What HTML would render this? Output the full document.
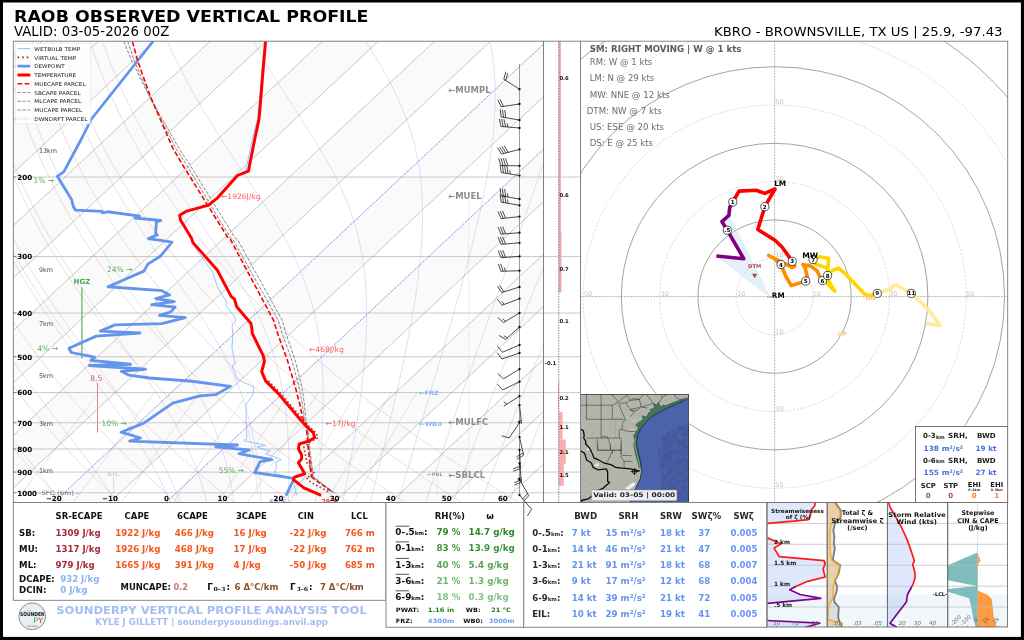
<!DOCTYPE html>
<html lang="en"><head><meta charset="utf-8"><title>RAOB OBSERVED VERTICAL PROFILE</title>
<style>html,body{margin:0;padding:0;background:#fff;overflow:hidden}svg{display:block}text{font-family:'DejaVu Sans','Liberation Sans',sans-serif;white-space:pre}</style></head><body>
<svg width="1024" height="640" viewBox="0 0 1024 640">
<g opacity="0.999">
<rect x="0.00" y="0.00" width="1024.00" height="640.00" fill="#000" stroke="none" stroke-width="0" />
<rect x="3.00" y="2.50" width="1017.90" height="634.40" fill="#fff" stroke="none" stroke-width="0" />
<text x="14.00" y="22.00" font-size="15.8" fill="#000" font-weight="bold" textLength="354.50" lengthAdjust="spacingAndGlyphs">RAOB OBSERVED VERTICAL PROFILE</text>
<text x="14.00" y="36.30" font-size="13.7" fill="#000" textLength="155.30" lengthAdjust="spacingAndGlyphs">VALID: 03-05-2026 00Z</text>
<text x="1002.50" y="36.30" font-size="12.9" fill="#000" text-anchor="end" textLength="288.50" lengthAdjust="spacingAndGlyphs">KBRO - BROWNSVILLE, TX US | 25.9, -97.43</text>
<defs><clipPath id="skc"><rect x="13.3" y="41.2" width="530.20" height="461.30"/></clipPath></defs>
<g clip-path="url(#skc)">
<rect x="13.30" y="41.20" width="530.20" height="461.30" fill="#fff" stroke="none" stroke-width="0" />
<polygon points="-506.96,502.50 -450.88,502.50 41.96,41.20 -14.12,41.20" fill="#fafafa"/>
<polygon points="-394.80,502.50 -338.72,502.50 154.12,41.20 98.04,41.20" fill="#fafafa"/>
<polygon points="-282.64,502.50 -226.56,502.50 266.28,41.20 210.20,41.20" fill="#fafafa"/>
<polygon points="-170.48,502.50 -114.40,502.50 378.44,41.20 322.36,41.20" fill="#fafafa"/>
<polygon points="-58.32,502.50 -2.24,502.50 490.60,41.20 434.52,41.20" fill="#fafafa"/>
<polygon points="53.84,502.50 109.92,502.50 602.76,41.20 546.68,41.20" fill="#fafafa"/>
<polygon points="166.00,502.50 222.08,502.50 714.92,41.20 658.84,41.20" fill="#fafafa"/>
<polygon points="278.16,502.50 334.24,502.50 827.08,41.20 771.00,41.20" fill="#fafafa"/>
<polygon points="390.32,502.50 446.40,502.50 939.24,41.20 883.16,41.20" fill="#fafafa"/>
<line x1="13.30" y1="41.00" x2="543.50" y2="41.00" stroke="#c4c4c4" stroke-width="0.9" />
<line x1="13.30" y1="177.00" x2="543.50" y2="177.00" stroke="#c4c4c4" stroke-width="0.9" />
<line x1="13.30" y1="256.55" x2="543.50" y2="256.55" stroke="#c4c4c4" stroke-width="0.9" />
<line x1="13.30" y1="313.00" x2="543.50" y2="313.00" stroke="#c4c4c4" stroke-width="0.9" />
<line x1="13.30" y1="356.78" x2="543.50" y2="356.78" stroke="#c4c4c4" stroke-width="0.9" />
<line x1="13.30" y1="392.55" x2="543.50" y2="392.55" stroke="#c4c4c4" stroke-width="0.9" />
<line x1="13.30" y1="422.79" x2="543.50" y2="422.79" stroke="#c4c4c4" stroke-width="0.9" />
<line x1="13.30" y1="448.99" x2="543.50" y2="448.99" stroke="#c4c4c4" stroke-width="0.9" />
<line x1="13.30" y1="472.10" x2="543.50" y2="472.10" stroke="#c4c4c4" stroke-width="0.9" />
<line x1="13.30" y1="492.77" x2="543.50" y2="492.77" stroke="#c4c4c4" stroke-width="0.9" />
<g fill="none" stroke="#f08080" stroke-width="0.55" opacity="0.55">
<polyline points="6.83,502.34 -0.35,494.53 -7.36,486.71 -14.20,478.89 -20.86,471.07 -27.35,463.25 -33.68,455.43 -39.84,447.61 -45.83,439.79 -51.66,431.97 -57.34,424.15 -62.85,416.33 -68.20,408.51 -73.40,400.69 -78.45,392.87 -83.35,385.05 -88.09,377.24 -92.69,369.42 -97.14,361.60 -101.44,353.78 -105.61,345.96 -109.63,338.14 -113.51,330.32 -117.25,322.50 -120.85,314.68 -124.32,306.86 -127.66,299.04 -130.86,291.22 -133.93,283.40 -136.88,275.58 -139.69,267.76 -142.38,259.95 -144.94,252.13 -147.38,244.31 -149.70,236.49 -151.90,228.67 -153.98,220.85 -155.94,213.03 -157.78,205.21 -159.50,197.39 -161.12,189.57 -162.62,181.75 -164.01,173.93 -165.29,166.11 -166.45,158.29 -167.52,150.47 -168.47,142.66 -169.32,134.84 -170.07,127.02 -170.71,119.20 -171.25,111.38 -171.69,103.56 -172.03,95.74 -172.27,87.92 -172.41,80.10 -172.46,72.28 -172.42,64.46 -172.27,56.64 -172.04,48.82 -171.71,41.00"/>
<polyline points="63.70,502.34 55.87,494.53 48.22,486.71 40.76,478.89 33.47,471.07 26.37,463.25 19.43,455.43 12.67,447.61 6.08,439.79 -0.34,431.97 -6.59,424.15 -12.68,416.33 -18.60,408.51 -24.36,400.69 -29.96,392.87 -35.41,385.05 -40.70,377.24 -45.83,369.42 -50.81,361.60 -55.64,353.78 -60.32,345.96 -64.85,338.14 -69.24,330.32 -73.48,322.50 -77.58,314.68 -81.54,306.86 -85.36,299.04 -89.04,291.22 -92.59,283.40 -96.00,275.58 -99.28,267.76 -102.43,259.95 -105.44,252.13 -108.33,244.31 -111.09,236.49 -113.72,228.67 -116.23,220.85 -118.62,213.03 -120.88,205.21 -123.03,197.39 -125.05,189.57 -126.96,181.75 -128.76,173.93 -130.43,166.11 -132.00,158.29 -133.45,150.47 -134.79,142.66 -136.02,134.84 -137.14,127.02 -138.16,119.20 -139.07,111.38 -139.87,103.56 -140.57,95.74 -141.17,87.92 -141.66,80.10 -142.06,72.28 -142.36,64.46 -142.56,56.64 -142.66,48.82 -142.67,41.00"/>
<polyline points="120.57,502.34 112.09,494.53 103.81,486.71 95.72,478.89 87.81,471.07 80.09,463.25 72.54,455.43 65.18,447.61 58.00,439.79 50.99,431.97 44.16,424.15 37.50,416.33 31.01,408.51 24.68,400.69 18.52,392.87 12.53,385.05 6.70,377.24 1.03,369.42 -4.48,361.60 -9.84,353.78 -15.03,345.96 -20.08,338.14 -24.97,330.32 -29.72,322.50 -34.31,314.68 -38.76,306.86 -43.07,299.04 -47.23,291.22 -51.25,283.40 -55.13,275.58 -58.87,267.76 -62.47,259.95 -65.94,252.13 -69.27,244.31 -72.48,236.49 -75.55,228.67 -78.49,220.85 -81.30,213.03 -83.99,205.21 -86.55,197.39 -88.99,189.57 -91.31,181.75 -93.50,173.93 -95.58,166.11 -97.54,158.29 -99.38,150.47 -101.11,142.66 -102.72,134.84 -104.22,127.02 -105.61,119.20 -106.88,111.38 -108.05,103.56 -109.11,95.74 -110.07,87.92 -110.92,80.10 -111.66,72.28 -112.30,64.46 -112.84,56.64 -113.28,48.82 -113.62,41.00"/>
<polyline points="177.43,502.34 168.32,494.53 159.40,486.71 150.67,478.89 142.14,471.07 133.81,463.25 125.66,455.43 117.69,447.61 109.92,439.79 102.32,431.97 94.91,424.15 87.67,416.33 80.61,408.51 73.72,400.69 67.01,392.87 60.47,385.05 54.10,377.24 47.89,369.42 41.85,361.60 35.97,353.78 30.25,345.96 24.69,338.14 19.29,330.32 14.05,322.50 8.96,314.68 4.02,306.86 -0.77,299.04 -5.41,291.22 -9.90,283.40 -14.25,275.58 -18.45,267.76 -22.52,259.95 -26.44,252.13 -30.22,244.31 -33.86,236.49 -37.37,228.67 -40.75,220.85 -43.99,213.03 -47.10,205.21 -50.08,197.39 -52.93,189.57 -55.65,181.75 -58.25,173.93 -60.73,166.11 -63.08,158.29 -65.31,150.47 -67.43,142.66 -69.42,134.84 -71.30,127.02 -73.06,119.20 -74.70,111.38 -76.23,103.56 -77.66,95.74 -78.97,87.92 -80.17,80.10 -81.26,72.28 -82.24,64.46 -83.12,56.64 -83.90,48.82 -84.57,41.00"/>
<polyline points="234.30,502.34 224.54,494.53 214.98,486.71 205.63,478.89 196.48,471.07 187.53,463.25 178.77,455.43 170.20,447.61 161.83,439.79 153.65,431.97 145.65,424.15 137.84,416.33 130.21,408.51 122.77,400.69 115.50,392.87 108.41,385.05 101.49,377.24 94.75,369.42 88.18,361.60 81.77,353.78 75.54,345.96 69.47,338.14 63.56,330.32 57.81,322.50 52.22,314.68 46.80,306.86 41.52,299.04 36.40,291.22 31.44,283.40 26.62,275.58 21.96,267.76 17.44,259.95 13.07,252.13 8.84,244.31 4.75,236.49 0.80,228.67 -3.00,220.85 -6.67,213.03 -10.20,205.21 -13.60,197.39 -16.87,189.57 -20.00,181.75 -23.00,173.93 -25.88,166.11 -28.62,158.29 -31.25,150.47 -33.74,142.66 -36.12,134.84 -38.37,127.02 -40.51,119.20 -42.52,111.38 -44.42,103.56 -46.20,95.74 -47.86,87.92 -49.42,80.10 -50.86,72.28 -52.19,64.46 -53.41,56.64 -54.52,48.82 -55.52,41.00"/>
<polyline points="291.17,502.34 280.76,494.53 270.57,486.71 260.59,478.89 250.82,471.07 241.25,463.25 231.88,455.43 222.72,447.61 213.75,439.79 204.98,431.97 196.40,424.15 188.01,416.33 179.82,408.51 171.81,400.69 163.99,392.87 156.35,385.05 148.89,377.24 141.61,369.42 134.51,361.60 127.58,353.78 120.82,345.96 114.24,338.14 107.82,330.32 101.58,322.50 95.49,314.68 89.58,306.86 83.82,299.04 78.22,291.22 72.78,283.40 67.50,275.58 62.37,267.76 57.39,259.95 52.57,252.13 47.89,244.31 43.36,236.49 38.98,228.67 34.74,220.85 30.65,213.03 26.69,205.21 22.88,197.39 19.20,189.57 15.66,181.75 12.25,173.93 8.97,166.11 5.83,158.29 2.82,150.47 -0.06,142.66 -2.82,134.84 -5.45,127.02 -7.96,119.20 -10.34,111.38 -12.60,103.56 -14.74,95.74 -16.76,87.92 -18.67,80.10 -20.46,72.28 -22.13,64.46 -23.69,56.64 -25.14,48.82 -26.48,41.00"/>
<polyline points="348.03,502.34 336.99,494.53 326.16,486.71 315.55,478.89 305.15,471.07 294.97,463.25 284.99,455.43 275.23,447.61 265.66,439.79 256.31,431.97 247.15,424.15 238.19,416.33 229.42,408.51 220.85,400.69 212.48,392.87 204.29,385.05 196.28,377.24 188.47,369.42 180.83,361.60 173.38,353.78 166.11,345.96 159.01,338.14 152.09,330.32 145.34,322.50 138.76,314.68 132.36,306.86 126.11,299.04 120.04,291.22 114.12,283.40 108.37,275.58 102.78,267.76 97.35,259.95 92.07,252.13 86.95,244.31 81.98,236.49 77.16,228.67 72.49,220.85 67.96,213.03 63.58,205.21 59.35,197.39 55.26,189.57 51.31,181.75 47.50,173.93 43.83,166.11 40.29,158.29 36.89,150.47 33.62,142.66 30.48,134.84 27.47,127.02 24.60,119.20 21.84,111.38 19.22,103.56 16.72,95.74 14.34,87.92 12.08,80.10 9.94,72.28 7.93,64.46 6.02,56.64 4.24,48.82 2.57,41.00"/>
<polyline points="404.90,502.34 393.21,494.53 381.74,486.71 370.50,478.89 359.49,471.07 348.69,463.25 338.10,455.43 327.74,447.61 317.58,439.79 307.63,431.97 297.89,424.15 288.36,416.33 279.03,408.51 269.90,400.69 260.96,392.87 252.23,385.05 243.68,377.24 235.33,369.42 227.16,361.60 219.19,353.78 211.39,345.96 203.79,338.14 196.36,330.32 189.11,322.50 182.03,314.68 175.14,306.86 168.41,299.04 161.85,291.22 155.47,283.40 149.25,275.58 143.19,267.76 137.30,259.95 131.57,252.13 126.00,244.31 120.59,236.49 115.33,228.67 110.23,220.85 105.28,213.03 100.48,205.21 95.83,197.39 91.32,189.57 86.97,181.75 82.75,173.93 78.68,166.11 74.75,158.29 70.96,150.47 67.30,142.66 63.78,134.84 60.40,127.02 57.15,119.20 54.03,111.38 51.04,103.56 48.17,95.74 45.44,87.92 42.83,80.10 40.34,72.28 37.98,64.46 35.74,56.64 33.62,48.82 31.62,41.00"/>
<polyline points="461.77,502.34 449.43,494.53 437.33,486.71 425.46,478.89 413.82,471.07 402.41,463.25 391.22,455.43 380.25,447.61 369.50,439.79 358.96,431.97 348.64,424.15 338.53,416.33 328.63,408.51 318.94,400.69 309.45,392.87 300.16,385.05 291.08,377.24 282.19,369.42 273.49,361.60 264.99,353.78 256.68,345.96 248.56,338.14 240.62,330.32 232.87,322.50 225.30,314.68 217.91,306.86 210.70,299.04 203.67,291.22 196.81,283.40 190.12,275.58 183.61,267.76 177.26,259.95 171.07,252.13 165.06,244.31 159.20,236.49 153.51,228.67 147.97,220.85 142.59,213.03 137.37,205.21 132.30,197.39 127.39,189.57 122.62,181.75 118.00,173.93 113.53,166.11 109.20,158.29 105.02,150.47 100.98,142.66 97.08,134.84 93.32,127.02 89.70,119.20 86.21,111.38 82.85,103.56 79.63,95.74 76.54,87.92 73.58,80.10 70.75,72.28 68.04,64.46 65.46,56.64 63.00,48.82 60.67,41.00"/>
<polyline points="518.64,502.34 505.66,494.53 492.92,486.71 480.42,478.89 468.16,471.07 456.13,463.25 444.33,455.43 432.76,447.61 421.41,439.79 410.29,431.97 399.39,424.15 388.71,416.33 378.24,408.51 367.98,400.69 357.94,392.87 348.10,385.05 338.47,377.24 329.05,369.42 319.82,361.60 310.80,353.78 301.97,345.96 293.33,338.14 284.89,330.32 276.64,322.50 268.57,314.68 260.69,306.86 253.00,299.04 245.49,291.22 238.15,283.40 231.00,275.58 224.02,267.76 217.21,259.95 210.58,252.13 204.11,244.31 197.81,236.49 191.68,228.67 185.72,220.85 179.91,213.03 174.27,205.21 168.78,197.39 163.45,189.57 158.27,181.75 153.25,173.93 148.38,166.11 143.66,158.29 139.09,150.47 134.66,142.66 130.38,134.84 126.24,127.02 122.25,119.20 118.39,111.38 114.67,103.56 111.09,95.74 107.64,87.92 104.33,80.10 101.15,72.28 98.10,64.46 95.17,56.64 92.38,48.82 89.71,41.00"/>
</g>
<g fill="none" stroke="#8c8cff" stroke-width="0.55" opacity="0.5">
<polyline points="5.76,502.34 4.91,501.28 4.05,500.22 3.19,499.15 2.34,498.09 1.48,497.03 0.62,495.96 -0.23,494.90 -1.09,493.84 -1.94,492.77 -3.76,490.50 -5.59,488.23 -7.40,485.96 -9.22,483.69 -11.03,481.42 -12.83,479.15 -14.63,476.88 -16.43,474.61 -18.22,472.34 -20.00,470.07 -21.78,467.80 -23.55,465.53 -25.31,463.26 -27.07,460.99 -28.82,458.72 -30.56,456.45 -32.29,454.18 -34.01,451.91 -35.73,449.64 -37.43,447.37 -39.13,445.10 -40.82,442.83 -42.49,440.56 -44.16,438.29 -45.82,436.02 -47.46,433.75 -49.10,431.48 -50.73,429.21 -52.34,426.94 -53.94,424.67 -55.54,422.40 -57.12,420.13 -58.69,417.86 -60.25,415.59 -61.80,413.32 -63.34,411.04 -64.86,408.77 -66.38,406.50 -67.88,404.23 -69.37,401.96 -70.85,399.69 -72.32,397.42 -73.77,395.15 -75.22,392.88 -76.65,390.61 -78.07,388.34 -79.48,386.07 -80.87,383.80 -82.26,381.53 -83.63,379.26 -84.99,376.99 -86.34,374.72 -87.67,372.45 -89.00,370.18 -90.31,367.91 -91.61,365.64 -92.90,363.37 -94.18,361.10 -95.45,358.83 -96.70,356.56 -97.94,354.29 -99.17,352.02 -100.39,349.75 -101.59,347.48 -102.79,345.21 -103.97,342.94 -105.14,340.67 -106.30,338.40 -107.45,336.13 -108.58,333.86 -109.71,331.59 -110.82,329.32 -111.92,327.05 -113.01,324.78 -114.09,322.51 -115.16,320.24 -116.21,317.97 -117.26,315.70 -118.29,313.43 -119.31,311.16 -120.32,308.89 -121.32,306.62 -122.31,304.35 -123.28,302.08 -124.25,299.81 -125.20,297.54 -126.14,295.27 -127.07,293.00 -128.00,290.73 -128.90,288.45 -129.80,286.18 -130.69,283.91 -131.57,281.64 -132.43,279.37 -133.29,277.10 -134.13,274.83 -134.97,272.56 -135.79,270.29 -136.60,268.02 -137.40,265.75 -138.19,263.48 -138.97,261.21 -139.74,258.94 -140.50,256.67 -141.25,254.40 -141.99,252.13 -142.72,249.86 -143.43,247.59 -144.14,245.32 -144.84,243.05 -145.52,240.78 -146.20,238.51 -146.86,236.24 -147.52,233.97 -148.17,231.70 -148.80,229.43 -149.43,227.16 -150.04,224.89 -150.65,222.62 -151.24,220.35 -151.83,218.08 -152.40,215.81 -152.97,213.54 -153.52,211.27 -154.07,209.00 -154.60,206.73 -155.13,204.46 -155.65,202.19 -156.15,199.92 -156.65,197.65 -157.14,195.38 -157.62,193.11 -158.08,190.84 -158.54,188.57 -158.99,186.30 -159.43,184.03 -159.86,181.76 -160.28,179.49 -160.69,177.22 -161.10,174.95 -161.49,172.68 -161.87,170.41 -162.25,168.13 -162.61,165.86 -162.97,163.59 -163.31,161.32 -163.65,159.05 -163.98,156.78 -164.30,154.51 -164.61,152.24 -164.91,149.97 -165.20,147.70 -165.49,145.43 -165.76,143.16 -166.03,140.89 -166.28,138.62 -166.53,136.35 -166.77,134.08 -167.00,131.81 -167.22,129.54 -167.43,127.27 -167.64,125.00 -167.83,122.73 -168.02,120.46 -168.20,118.19 -168.37,115.92 -168.53,113.65 -168.68,111.38 -168.82,109.11 -168.96,106.84 -169.09,104.57 -169.21,102.30 -169.32,100.03 -169.42,97.76 -169.51,95.49 -169.60,93.22 -169.67,90.95 -169.74,88.68 -169.80,86.41 -169.85,84.14 -169.90,81.87 -169.93,79.60 -169.96,77.33 -169.98,75.06 -169.99,72.79 -170.00,70.52 -169.99,68.25 -169.98,65.98 -169.96,63.71 -169.93,61.44 -169.90,59.17 -169.85,56.90 -169.80,54.63 -169.74,52.36 -169.67,50.09 -169.60,47.82 -169.51,45.54 -169.42,43.27 -169.32,41.00"/>
<polyline points="61.42,502.34 60.62,501.28 59.81,500.22 59.01,499.15 58.20,498.09 57.39,497.03 56.58,495.96 55.77,494.90 54.96,493.84 54.14,492.77 52.39,490.50 50.64,488.23 48.88,485.96 47.11,483.69 45.34,481.42 43.57,479.15 41.79,476.88 40.01,474.61 38.22,472.34 36.43,470.07 34.65,467.80 32.86,465.53 31.06,463.26 29.27,460.99 27.49,458.72 25.70,456.45 23.91,454.18 22.13,451.91 20.35,449.64 18.57,447.37 16.79,445.10 15.02,442.83 13.26,440.56 11.50,438.29 9.74,436.02 7.99,433.75 6.25,431.48 4.52,429.21 2.79,426.94 1.07,424.67 -0.65,422.40 -2.35,420.13 -4.05,417.86 -5.74,415.59 -7.42,413.32 -9.09,411.04 -10.76,408.77 -12.41,406.50 -14.05,404.23 -15.69,401.96 -17.31,399.69 -18.92,397.42 -20.53,395.15 -22.12,392.88 -23.70,390.61 -25.27,388.34 -26.83,386.07 -28.38,383.80 -29.92,381.53 -31.45,379.26 -32.97,376.99 -34.47,374.72 -35.96,372.45 -37.45,370.18 -38.92,367.91 -40.38,365.64 -41.82,363.37 -43.26,361.10 -44.68,358.83 -46.09,356.56 -47.49,354.29 -48.88,352.02 -50.26,349.75 -51.63,347.48 -52.98,345.21 -54.32,342.94 -55.65,340.67 -56.97,338.40 -58.27,336.13 -59.57,333.86 -60.85,331.59 -62.12,329.32 -63.38,327.05 -64.63,324.78 -65.86,322.51 -67.08,320.24 -68.30,317.97 -69.50,315.70 -70.68,313.43 -71.86,311.16 -73.02,308.89 -74.18,306.62 -75.32,304.35 -76.45,302.08 -77.57,299.81 -78.67,297.54 -79.77,295.27 -80.85,293.00 -81.92,290.73 -82.98,288.45 -84.03,286.18 -85.07,283.91 -86.10,281.64 -87.11,279.37 -88.12,277.10 -89.11,274.83 -90.09,272.56 -91.06,270.29 -92.02,268.02 -92.97,265.75 -93.91,263.48 -94.83,261.21 -95.75,258.94 -96.65,256.67 -97.54,254.40 -98.43,252.13 -99.30,249.86 -100.16,247.59 -101.01,245.32 -101.84,243.05 -102.67,240.78 -103.49,238.51 -104.30,236.24 -105.09,233.97 -105.88,231.70 -106.65,229.43 -107.42,227.16 -108.17,224.89 -108.91,222.62 -109.65,220.35 -110.37,218.08 -111.08,215.81 -111.78,213.54 -112.47,211.27 -113.15,209.00 -113.82,206.73 -114.49,204.46 -115.14,202.19 -115.78,199.92 -116.41,197.65 -117.03,195.38 -117.64,193.11 -118.24,190.84 -118.83,188.57 -119.41,186.30 -119.98,184.03 -120.54,181.76 -121.09,179.49 -121.63,177.22 -122.16,174.95 -122.68,172.68 -123.19,170.41 -123.69,168.13 -124.19,165.86 -124.67,163.59 -125.14,161.32 -125.60,159.05 -126.06,156.78 -126.50,154.51 -126.94,152.24 -127.36,149.97 -127.78,147.70 -128.19,145.43 -128.58,143.16 -128.97,140.89 -129.35,138.62 -129.72,136.35 -130.08,134.08 -130.43,131.81 -130.77,129.54 -131.11,127.27 -131.43,125.00 -131.74,122.73 -132.05,120.46 -132.35,118.19 -132.63,115.92 -132.91,113.65 -133.18,111.38 -133.44,109.11 -133.69,106.84 -133.94,104.57 -134.17,102.30 -134.40,100.03 -134.62,97.76 -134.82,95.49 -135.02,93.22 -135.21,90.95 -135.40,88.68 -135.57,86.41 -135.73,84.14 -135.89,81.87 -136.04,79.60 -136.18,77.33 -136.31,75.06 -136.43,72.79 -136.55,70.52 -136.65,68.25 -136.75,65.98 -136.84,63.71 -136.92,61.44 -136.99,59.17 -137.06,56.90 -137.11,54.63 -137.16,52.36 -137.20,50.09 -137.23,47.82 -137.26,45.54 -137.27,43.27 -137.28,41.00"/>
<polyline points="116.29,502.34 115.63,501.28 114.97,500.22 114.30,499.15 113.63,498.09 112.96,497.03 112.28,495.96 111.60,494.90 110.91,493.84 110.22,492.77 108.74,490.50 107.24,488.23 105.72,485.96 104.19,483.69 102.65,481.42 101.09,479.15 99.51,476.88 97.92,474.61 96.32,472.34 94.70,470.07 93.07,467.80 91.43,465.53 89.77,463.26 88.11,460.99 86.44,458.72 84.75,456.45 83.06,454.18 81.36,451.91 79.65,449.64 77.94,447.37 76.22,445.10 74.49,442.83 72.76,440.56 71.02,438.29 69.28,436.02 67.54,433.75 65.79,431.48 64.04,429.21 62.29,426.94 60.54,424.67 58.79,422.40 57.04,420.13 55.29,417.86 53.54,415.59 51.80,413.32 50.05,411.04 48.31,408.77 46.58,406.50 44.84,404.23 43.12,401.96 41.39,399.69 39.68,397.42 37.96,395.15 36.26,392.88 34.56,390.61 32.86,388.34 31.18,386.07 29.50,383.80 27.83,381.53 26.17,379.26 24.51,376.99 22.87,374.72 21.23,372.45 19.60,370.18 17.99,367.91 16.38,365.64 14.78,363.37 13.19,361.10 11.61,358.83 10.04,356.56 8.48,354.29 6.93,352.02 5.40,349.75 3.87,347.48 2.35,345.21 0.85,342.94 -0.64,340.67 -2.13,338.40 -3.60,336.13 -5.06,333.86 -6.51,331.59 -7.94,329.32 -9.37,327.05 -10.78,324.78 -12.19,322.51 -13.58,320.24 -14.96,317.97 -16.32,315.70 -17.68,313.43 -19.02,311.16 -20.36,308.89 -21.68,306.62 -22.99,304.35 -24.28,302.08 -25.57,299.81 -26.84,297.54 -28.11,295.27 -29.36,293.00 -30.59,290.73 -31.82,288.45 -33.04,286.18 -34.24,283.91 -35.43,281.64 -36.61,279.37 -37.78,277.10 -38.94,274.83 -40.08,272.56 -41.22,270.29 -42.34,268.02 -43.45,265.75 -44.55,263.48 -45.63,261.21 -46.71,258.94 -47.77,256.67 -48.83,254.40 -49.87,252.13 -50.90,249.86 -51.92,247.59 -52.93,245.32 -53.92,243.05 -54.91,240.78 -55.88,238.51 -56.85,236.24 -57.80,233.97 -58.74,231.70 -59.67,229.43 -60.59,227.16 -61.50,224.89 -62.39,222.62 -63.28,220.35 -64.15,218.08 -65.02,215.81 -65.87,213.54 -66.71,211.27 -67.55,209.00 -68.37,206.73 -69.18,204.46 -69.98,202.19 -70.77,199.92 -71.54,197.65 -72.31,195.38 -73.07,193.11 -73.82,190.84 -74.55,188.57 -75.28,186.30 -75.99,184.03 -76.70,181.76 -77.39,179.49 -78.08,177.22 -78.75,174.95 -79.42,172.68 -80.07,170.41 -80.72,168.13 -81.35,165.86 -81.97,163.59 -82.59,161.32 -83.19,159.05 -83.78,156.78 -84.37,154.51 -84.94,152.24 -85.51,149.97 -86.06,147.70 -86.60,145.43 -87.14,143.16 -87.66,140.89 -88.18,138.62 -88.68,136.35 -89.18,134.08 -89.66,131.81 -90.14,129.54 -90.61,127.27 -91.07,125.00 -91.51,122.73 -91.95,120.46 -92.38,118.19 -92.80,115.92 -93.21,113.65 -93.61,111.38 -94.00,109.11 -94.38,106.84 -94.76,104.57 -95.12,102.30 -95.47,100.03 -95.82,97.76 -96.16,95.49 -96.48,93.22 -96.80,90.95 -97.11,88.68 -97.41,86.41 -97.70,84.14 -97.98,81.87 -98.26,79.60 -98.52,77.33 -98.77,75.06 -99.02,72.79 -99.26,70.52 -99.49,68.25 -99.71,65.98 -99.92,63.71 -100.12,61.44 -100.32,59.17 -100.50,56.90 -100.68,54.63 -100.85,52.36 -101.01,50.09 -101.16,47.82 -101.30,45.54 -101.43,43.27 -101.56,41.00"/>
<polyline points="170.46,502.34 170.02,501.28 169.57,500.22 169.11,499.15 168.66,498.09 168.19,497.03 167.73,495.96 167.25,494.90 166.78,493.84 166.30,492.77 165.26,490.50 164.21,488.23 163.13,485.96 162.04,483.69 160.92,481.42 159.79,479.15 158.63,476.88 157.45,474.61 156.26,472.34 155.04,470.07 153.80,467.80 152.54,465.53 151.27,463.26 149.97,460.99 148.65,458.72 147.32,456.45 145.96,454.18 144.59,451.91 143.20,449.64 141.79,447.37 140.36,445.10 138.91,442.83 137.45,440.56 135.97,438.29 134.48,436.02 132.97,433.75 131.44,431.48 129.90,429.21 128.35,426.94 126.78,424.67 125.20,422.40 123.61,420.13 122.00,417.86 120.39,415.59 118.76,413.32 117.12,411.04 115.48,408.77 113.82,406.50 112.16,404.23 110.49,401.96 108.81,399.69 107.13,397.42 105.44,395.15 103.75,392.88 102.06,390.61 100.36,388.34 98.66,386.07 96.95,383.80 95.25,381.53 93.54,379.26 91.83,376.99 90.13,374.72 88.42,372.45 86.72,370.18 85.02,367.91 83.32,365.64 81.62,363.37 79.93,361.10 78.24,358.83 76.56,356.56 74.88,354.29 73.20,352.02 71.54,349.75 69.87,347.48 68.22,345.21 66.57,342.94 64.93,340.67 63.29,338.40 61.67,336.13 60.05,333.86 58.44,331.59 56.84,329.32 55.25,327.05 53.66,324.78 52.09,322.51 50.52,320.24 48.97,317.97 47.42,315.70 45.89,313.43 44.37,311.16 42.85,308.89 41.35,306.62 39.85,304.35 38.37,302.08 36.90,299.81 35.44,297.54 33.99,295.27 32.55,293.00 31.12,290.73 29.71,288.45 28.30,286.18 26.91,283.91 25.53,281.64 24.16,279.37 22.80,277.10 21.45,274.83 20.12,272.56 18.79,270.29 17.48,268.02 16.18,265.75 14.89,263.48 13.61,261.21 12.34,258.94 11.09,256.67 9.85,254.40 8.62,252.13 7.40,249.86 6.19,247.59 4.99,245.32 3.81,243.05 2.63,240.78 1.47,238.51 0.32,236.24 -0.82,233.97 -1.94,231.70 -3.06,229.43 -4.16,227.16 -5.25,224.89 -6.33,222.62 -7.40,220.35 -8.46,218.08 -9.51,215.81 -10.54,213.54 -11.57,211.27 -12.58,209.00 -13.58,206.73 -14.57,204.46 -15.55,202.19 -16.52,199.92 -17.48,197.65 -18.42,195.38 -19.36,193.11 -20.28,190.84 -21.19,188.57 -22.10,186.30 -22.99,184.03 -23.87,181.76 -24.73,179.49 -25.59,177.22 -26.44,174.95 -27.28,172.68 -28.10,170.41 -28.92,168.13 -29.72,165.86 -30.52,163.59 -31.30,161.32 -32.07,159.05 -32.83,156.78 -33.59,154.51 -34.33,152.24 -35.06,149.97 -35.78,147.70 -36.49,145.43 -37.19,143.16 -37.88,140.89 -38.56,138.62 -39.22,136.35 -39.88,134.08 -40.53,131.81 -41.17,129.54 -41.80,127.27 -42.42,125.00 -43.02,122.73 -43.62,120.46 -44.21,118.19 -44.79,115.92 -45.36,113.65 -45.92,111.38 -46.46,109.11 -47.00,106.84 -47.53,104.57 -48.05,102.30 -48.56,100.03 -49.06,97.76 -49.55,95.49 -50.03,93.22 -50.50,90.95 -50.96,88.68 -51.42,86.41 -51.86,84.14 -52.29,81.87 -52.72,79.60 -53.13,77.33 -53.53,75.06 -53.93,72.79 -54.32,70.52 -54.69,68.25 -55.06,65.98 -55.42,63.71 -55.77,61.44 -56.11,59.17 -56.44,56.90 -56.76,54.63 -57.08,52.36 -57.38,50.09 -57.67,47.82 -57.96,45.54 -58.24,43.27 -58.51,41.00"/>
<polyline points="180.17,502.34 179.76,501.28 179.36,500.22 178.95,499.15 178.53,498.09 178.11,497.03 177.69,495.96 177.26,494.90 176.83,493.84 176.39,492.77 175.45,490.50 174.49,488.23 173.51,485.96 172.51,483.69 171.49,481.42 170.45,479.15 169.38,476.88 168.30,474.61 167.20,472.34 166.08,470.07 164.93,467.80 163.77,465.53 162.58,463.26 161.38,460.99 160.15,458.72 158.91,456.45 157.64,454.18 156.36,451.91 155.05,449.64 153.73,447.37 152.39,445.10 151.02,442.83 149.64,440.56 148.25,438.29 146.83,436.02 145.39,433.75 143.94,431.48 142.48,429.21 140.99,426.94 139.49,424.67 137.98,422.40 136.45,420.13 134.90,417.86 133.34,415.59 131.77,413.32 130.19,411.04 128.60,408.77 126.99,406.50 125.37,404.23 123.75,401.96 122.11,399.69 120.46,397.42 118.81,395.15 117.15,392.88 115.48,390.61 113.81,388.34 112.13,386.07 110.45,383.80 108.76,381.53 107.07,379.26 105.38,376.99 103.68,374.72 101.99,372.45 100.29,370.18 98.59,367.91 96.90,365.64 95.20,363.37 93.50,361.10 91.81,358.83 90.12,356.56 88.43,354.29 86.75,352.02 85.07,349.75 83.39,347.48 81.72,345.21 80.06,342.94 78.40,340.67 76.75,338.40 75.10,336.13 73.46,333.86 71.82,331.59 70.20,329.32 68.58,327.05 66.97,324.78 65.37,322.51 63.78,320.24 62.19,317.97 60.62,315.70 59.05,313.43 57.50,311.16 55.95,308.89 54.42,306.62 52.89,304.35 51.37,302.08 49.87,299.81 48.37,297.54 46.89,295.27 45.41,293.00 43.95,290.73 42.50,288.45 41.06,286.18 39.63,283.91 38.21,281.64 36.80,279.37 35.40,277.10 34.02,274.83 32.65,272.56 31.28,270.29 29.93,268.02 28.59,265.75 27.27,263.48 25.95,261.21 24.65,258.94 23.35,256.67 22.07,254.40 20.80,252.13 19.54,249.86 18.30,247.59 17.06,245.32 15.84,243.05 14.63,240.78 13.43,238.51 12.24,236.24 11.06,233.97 9.90,231.70 8.74,229.43 7.60,227.16 6.47,224.89 5.35,222.62 4.25,220.35 3.15,218.08 2.07,215.81 0.99,213.54 -0.07,211.27 -1.12,209.00 -2.16,206.73 -3.19,204.46 -4.20,202.19 -5.21,199.92 -6.20,197.65 -7.18,195.38 -8.16,193.11 -9.12,190.84 -10.07,188.57 -11.00,186.30 -11.93,184.03 -12.85,181.76 -13.75,179.49 -14.65,177.22 -15.53,174.95 -16.40,172.68 -17.26,170.41 -18.11,168.13 -18.95,165.86 -19.78,163.59 -20.60,161.32 -21.41,159.05 -22.21,156.78 -22.99,154.51 -23.77,152.24 -24.54,149.97 -25.29,147.70 -26.03,145.43 -26.77,143.16 -27.49,140.89 -28.21,138.62 -28.91,136.35 -29.60,134.08 -30.28,131.81 -30.96,129.54 -31.62,127.27 -32.27,125.00 -32.91,122.73 -33.54,120.46 -34.16,118.19 -34.77,115.92 -35.38,113.65 -35.97,111.38 -36.55,109.11 -37.12,106.84 -37.68,104.57 -38.23,102.30 -38.78,100.03 -39.31,97.76 -39.83,95.49 -40.34,93.22 -40.85,90.95 -41.34,88.68 -41.82,86.41 -42.30,84.14 -42.76,81.87 -43.22,79.60 -43.66,77.33 -44.10,75.06 -44.53,72.79 -44.94,70.52 -45.35,68.25 -45.75,65.98 -46.14,63.71 -46.52,61.44 -46.89,59.17 -47.25,56.90 -47.60,54.63 -47.95,52.36 -48.28,50.09 -48.61,47.82 -48.92,45.54 -49.23,43.27 -49.53,41.00"/>
<polyline points="207.10,502.34 206.82,501.28 206.53,500.22 206.24,499.15 205.95,498.09 205.66,497.03 205.36,495.96 205.05,494.90 204.74,493.84 204.43,492.77 203.76,490.50 203.07,488.23 202.36,485.96 201.64,483.69 200.89,481.42 200.13,479.15 199.35,476.88 198.55,474.61 197.73,472.34 196.89,470.07 196.03,467.80 195.15,465.53 194.25,463.26 193.33,460.99 192.39,458.72 191.43,456.45 190.45,454.18 189.45,451.91 188.43,449.64 187.39,447.37 186.33,445.10 185.25,442.83 184.14,440.56 183.02,438.29 181.87,436.02 180.71,433.75 179.52,431.48 178.31,429.21 177.08,426.94 175.84,424.67 174.57,422.40 173.28,420.13 171.98,417.86 170.65,415.59 169.30,413.32 167.94,411.04 166.56,408.77 165.16,406.50 163.74,404.23 162.31,401.96 160.86,399.69 159.39,397.42 157.91,395.15 156.41,392.88 154.90,390.61 153.37,388.34 151.83,386.07 150.28,383.80 148.71,381.53 147.14,379.26 145.55,376.99 143.95,374.72 142.34,372.45 140.73,370.18 139.10,367.91 137.47,365.64 135.83,363.37 134.19,361.10 132.54,358.83 130.88,356.56 129.22,354.29 127.56,352.02 125.89,349.75 124.22,347.48 122.55,345.21 120.88,342.94 119.21,340.67 117.54,338.40 115.87,336.13 114.20,333.86 112.53,331.59 110.87,329.32 109.20,327.05 107.55,324.78 105.89,322.51 104.24,320.24 102.60,317.97 100.96,315.70 99.32,313.43 97.69,311.16 96.07,308.89 94.46,306.62 92.85,304.35 91.25,302.08 89.65,299.81 88.07,297.54 86.49,295.27 84.93,293.00 83.37,290.73 81.82,288.45 80.28,286.18 78.74,283.91 77.22,281.64 75.71,279.37 74.21,277.10 72.72,274.83 71.24,272.56 69.77,270.29 68.31,268.02 66.86,265.75 65.42,263.48 63.99,261.21 62.57,258.94 61.17,256.67 59.77,254.40 58.39,252.13 57.02,249.86 55.66,247.59 54.31,245.32 52.97,243.05 51.64,240.78 50.33,238.51 49.02,236.24 47.73,233.97 46.45,231.70 45.18,229.43 43.92,227.16 42.68,224.89 41.44,222.62 40.22,220.35 39.01,218.08 37.81,215.81 36.62,213.54 35.44,211.27 34.28,209.00 33.13,206.73 31.98,204.46 30.85,202.19 29.73,199.92 28.63,197.65 27.53,195.38 26.45,193.11 25.37,190.84 24.31,188.57 23.26,186.30 22.22,184.03 21.19,181.76 20.18,179.49 19.17,177.22 18.18,174.95 17.19,172.68 16.22,170.41 15.26,168.13 14.31,165.86 13.37,163.59 12.45,161.32 11.53,159.05 10.62,156.78 9.73,154.51 8.85,152.24 7.97,149.97 7.11,147.70 6.26,145.43 5.42,143.16 4.59,140.89 3.77,138.62 2.96,136.35 2.16,134.08 1.38,131.81 0.60,129.54 -0.16,127.27 -0.92,125.00 -1.66,122.73 -2.40,120.46 -3.12,118.19 -3.84,115.92 -4.54,113.65 -5.23,111.38 -5.92,109.11 -6.59,106.84 -7.25,104.57 -7.90,102.30 -8.54,100.03 -9.18,97.76 -9.80,95.49 -10.41,93.22 -11.01,90.95 -11.60,88.68 -12.19,86.41 -12.76,84.14 -13.32,81.87 -13.87,79.60 -14.41,77.33 -14.95,75.06 -15.47,72.79 -15.98,70.52 -16.49,68.25 -16.98,65.98 -17.46,63.71 -17.94,61.44 -18.40,59.17 -18.86,56.90 -19.30,54.63 -19.74,52.36 -20.17,50.09 -20.59,47.82 -20.99,45.54 -21.39,43.27 -21.78,41.00"/>
<polyline points="234.04,502.34 233.88,501.28 233.72,500.22 233.55,499.15 233.38,498.09 233.20,497.03 233.02,495.96 232.84,494.90 232.66,493.84 232.47,492.77 232.07,490.50 231.65,488.23 231.22,485.96 230.77,483.69 230.31,481.42 229.83,479.15 229.33,476.88 228.82,474.61 228.30,472.34 227.76,470.07 227.20,467.80 226.63,465.53 226.03,463.26 225.42,460.99 224.80,458.72 224.15,456.45 223.49,454.18 222.81,451.91 222.11,449.64 221.39,447.37 220.66,445.10 219.90,442.83 219.13,440.56 218.33,438.29 217.52,436.02 216.68,433.75 215.83,431.48 214.95,429.21 214.06,426.94 213.14,424.67 212.20,422.40 211.24,420.13 210.26,417.86 209.26,415.59 208.24,413.32 207.20,411.04 206.14,408.77 205.05,406.50 203.95,404.23 202.82,401.96 201.67,399.69 200.50,397.42 199.31,395.15 198.10,392.88 196.87,390.61 195.62,388.34 194.35,386.07 193.06,383.80 191.75,381.53 190.42,379.26 189.08,376.99 187.71,374.72 186.33,372.45 184.93,370.18 183.51,367.91 182.08,365.64 180.63,363.37 179.16,361.10 177.68,358.83 176.19,356.56 174.68,354.29 173.16,352.02 171.63,349.75 170.08,347.48 168.52,345.21 166.96,342.94 165.38,340.67 163.79,338.40 162.20,336.13 160.60,333.86 158.99,331.59 157.37,329.32 155.75,327.05 154.13,324.78 152.50,322.51 150.86,320.24 149.23,317.97 147.59,315.70 145.95,313.43 144.31,311.16 142.66,308.89 141.02,306.62 139.38,304.35 137.74,302.08 136.10,299.81 134.47,297.54 132.84,295.27 131.21,293.00 129.58,290.73 127.96,288.45 126.35,286.18 124.73,283.91 123.13,281.64 121.53,279.37 119.94,277.10 118.35,274.83 116.78,272.56 115.21,270.29 113.64,268.02 112.09,265.75 110.54,263.48 109.00,261.21 107.47,258.94 105.95,256.67 104.44,254.40 102.94,252.13 101.45,249.86 99.97,247.59 98.50,245.32 97.04,243.05 95.59,240.78 94.15,238.51 92.72,236.24 91.30,233.97 89.89,231.70 88.49,229.43 87.10,227.16 85.73,224.89 84.36,222.62 83.01,220.35 81.67,218.08 80.34,215.81 79.02,213.54 77.71,211.27 76.41,209.00 75.12,206.73 73.85,204.46 72.59,202.19 71.34,199.92 70.10,197.65 68.87,195.38 67.65,193.11 66.45,190.84 65.25,188.57 64.07,186.30 62.90,184.03 61.74,181.76 60.59,179.49 59.46,177.22 58.33,174.95 57.22,172.68 56.12,170.41 55.02,168.13 53.95,165.86 52.88,163.59 51.82,161.32 50.78,159.05 49.74,156.78 48.72,154.51 47.71,152.24 46.71,149.97 45.72,147.70 44.74,145.43 43.78,143.16 42.82,140.89 41.88,138.62 40.94,136.35 40.02,134.08 39.11,131.81 38.21,129.54 37.32,127.27 36.44,125.00 35.57,122.73 34.71,120.46 33.87,118.19 33.03,115.92 32.21,113.65 31.39,111.38 30.59,109.11 29.80,106.84 29.02,104.57 28.24,102.30 27.48,100.03 26.73,97.76 25.99,95.49 25.26,93.22 24.54,90.95 23.84,88.68 23.14,86.41 22.45,84.14 21.77,81.87 21.10,79.60 20.45,77.33 19.80,75.06 19.16,72.79 18.53,70.52 17.92,68.25 17.31,65.98 16.71,63.71 16.12,61.44 15.55,59.17 14.98,56.90 14.42,54.63 13.87,52.36 13.34,50.09 12.81,47.82 12.29,45.54 11.78,43.27 11.28,41.00"/>
<polyline points="261.06,502.34 261.01,501.28 260.95,500.22 260.90,499.15 260.84,498.09 260.78,497.03 260.71,495.96 260.65,494.90 260.58,493.84 260.51,492.77 260.36,490.50 260.20,488.23 260.02,485.96 259.84,483.69 259.65,481.42 259.44,479.15 259.22,476.88 258.99,474.61 258.75,472.34 258.50,470.07 258.23,467.80 257.95,465.53 257.66,463.26 257.36,460.99 257.04,458.72 256.71,456.45 256.37,454.18 256.01,451.91 255.63,449.64 255.24,447.37 254.84,445.10 254.42,442.83 253.99,440.56 253.54,438.29 253.08,436.02 252.59,433.75 252.10,431.48 251.58,429.21 251.05,426.94 250.50,424.67 249.93,422.40 249.35,420.13 248.75,417.86 248.12,415.59 247.48,413.32 246.83,411.04 246.15,408.77 245.45,406.50 244.73,404.23 244.00,401.96 243.24,399.69 242.46,397.42 241.67,395.15 240.85,392.88 240.01,390.61 239.15,388.34 238.27,386.07 237.37,383.80 236.44,381.53 235.50,379.26 234.53,376.99 233.54,374.72 232.53,372.45 231.50,370.18 230.45,367.91 229.38,365.64 228.28,363.37 227.16,361.10 226.03,358.83 224.87,356.56 223.69,354.29 222.49,352.02 221.27,349.75 220.03,347.48 218.77,345.21 217.48,342.94 216.19,340.67 214.87,338.40 213.53,336.13 212.17,333.86 210.80,331.59 209.41,329.32 208.01,327.05 206.59,324.78 205.15,322.51 203.70,320.24 202.23,317.97 200.75,315.70 199.26,313.43 197.75,311.16 196.23,308.89 194.71,306.62 193.17,304.35 191.62,302.08 190.07,299.81 188.50,297.54 186.93,295.27 185.35,293.00 183.77,290.73 182.18,288.45 180.58,286.18 178.98,283.91 177.38,281.64 175.78,279.37 174.17,277.10 172.56,274.83 170.95,272.56 169.35,270.29 167.74,268.02 166.13,265.75 164.53,263.48 162.92,261.21 161.33,258.94 159.73,256.67 158.14,254.40 156.55,252.13 154.96,249.86 153.39,247.59 151.81,245.32 150.25,243.05 148.69,240.78 147.13,238.51 145.59,236.24 144.05,233.97 142.52,231.70 140.99,229.43 139.48,227.16 137.97,224.89 136.47,222.62 134.98,220.35 133.50,218.08 132.03,215.81 130.57,213.54 129.12,211.27 127.68,209.00 126.25,206.73 124.83,204.46 123.42,202.19 122.02,199.92 120.63,197.65 119.25,195.38 117.89,193.11 116.53,190.84 115.18,188.57 113.85,186.30 112.53,184.03 111.21,181.76 109.91,179.49 108.62,177.22 107.34,174.95 106.08,172.68 104.82,170.41 103.58,168.13 102.34,165.86 101.12,163.59 99.91,161.32 98.71,159.05 97.52,156.78 96.35,154.51 95.18,152.24 94.03,149.97 92.89,147.70 91.76,145.43 90.64,143.16 89.53,140.89 88.44,138.62 87.35,136.35 86.28,134.08 85.21,131.81 84.16,129.54 83.12,127.27 82.10,125.00 81.08,122.73 80.07,120.46 79.08,118.19 78.09,115.92 77.12,113.65 76.16,111.38 75.21,109.11 74.27,106.84 73.34,104.57 72.43,102.30 71.52,100.03 70.62,97.76 69.74,95.49 68.87,93.22 68.00,90.95 67.15,88.68 66.31,86.41 65.48,84.14 64.66,81.87 63.85,79.60 63.05,77.33 62.27,75.06 61.49,72.79 60.72,70.52 59.97,68.25 59.22,65.98 58.48,63.71 57.76,61.44 57.05,59.17 56.34,56.90 55.65,54.63 54.96,52.36 54.29,50.09 53.63,47.82 52.97,45.54 52.33,43.27 51.70,41.00"/>
<polyline points="288.18,502.34 288.23,501.28 288.27,500.22 288.32,499.15 288.36,498.09 288.40,497.03 288.44,495.96 288.48,494.90 288.52,493.84 288.55,492.77 288.63,490.50 288.69,488.23 288.75,485.96 288.81,483.69 288.85,481.42 288.89,479.15 288.92,476.88 288.94,474.61 288.96,472.34 288.97,470.07 288.96,467.80 288.96,465.53 288.94,463.26 288.91,460.99 288.87,458.72 288.83,456.45 288.77,454.18 288.71,451.91 288.64,449.64 288.55,447.37 288.46,445.10 288.35,442.83 288.24,440.56 288.11,438.29 287.98,436.02 287.83,433.75 287.67,431.48 287.50,429.21 287.31,426.94 287.12,424.67 286.91,422.40 286.69,420.13 286.45,417.86 286.21,415.59 285.95,413.32 285.67,411.04 285.38,408.77 285.08,406.50 284.76,404.23 284.43,401.96 284.08,399.69 283.72,397.42 283.34,395.15 282.94,392.88 282.53,390.61 282.10,388.34 281.66,386.07 281.20,383.80 280.72,381.53 280.22,379.26 279.71,376.99 279.17,374.72 278.62,372.45 278.05,370.18 277.46,367.91 276.85,365.64 276.22,363.37 275.58,361.10 274.91,358.83 274.22,356.56 273.51,354.29 272.78,352.02 272.03,349.75 271.26,347.48 270.47,345.21 269.65,342.94 268.82,340.67 267.96,338.40 267.08,336.13 266.18,333.86 265.26,331.59 264.31,329.32 263.35,327.05 262.36,324.78 261.35,322.51 260.31,320.24 259.26,317.97 258.18,315.70 257.09,313.43 255.97,311.16 254.83,308.89 253.66,306.62 252.48,304.35 251.28,302.08 250.05,299.81 248.81,297.54 247.55,295.27 246.27,293.00 244.97,290.73 243.65,288.45 242.31,286.18 240.96,283.91 239.59,281.64 238.20,279.37 236.80,277.10 235.38,274.83 233.95,272.56 232.50,270.29 231.05,268.02 229.58,265.75 228.10,263.48 226.60,261.21 225.10,258.94 223.59,256.67 222.07,254.40 220.54,252.13 219.00,249.86 217.46,247.59 215.91,245.32 214.36,243.05 212.80,240.78 211.24,238.51 209.68,236.24 208.11,233.97 206.55,231.70 204.98,229.43 203.41,227.16 201.84,224.89 200.27,222.62 198.71,220.35 197.14,218.08 195.58,215.81 194.02,213.54 192.47,211.27 190.92,209.00 189.37,206.73 187.83,204.46 186.29,202.19 184.76,199.92 183.24,197.65 181.72,195.38 180.21,193.11 178.71,190.84 177.21,188.57 175.73,186.30 174.25,184.03 172.78,181.76 171.31,179.49 169.86,177.22 168.42,174.95 166.98,172.68 165.56,170.41 164.14,168.13 162.74,165.86 161.34,163.59 159.96,161.32 158.58,159.05 157.22,156.78 155.86,154.51 154.52,152.24 153.19,149.97 151.87,147.70 150.55,145.43 149.25,143.16 147.97,140.89 146.69,138.62 145.42,136.35 144.17,134.08 142.92,131.81 141.69,129.54 140.47,127.27 139.26,125.00 138.06,122.73 136.87,120.46 135.69,118.19 134.53,115.92 133.37,113.65 132.23,111.38 131.10,109.11 129.98,106.84 128.87,104.57 127.77,102.30 126.69,100.03 125.61,97.76 124.55,95.49 123.50,93.22 122.45,90.95 121.42,88.68 120.41,86.41 119.40,84.14 118.40,81.87 117.42,79.60 116.44,77.33 115.48,75.06 114.53,72.79 113.59,70.52 112.66,68.25 111.74,65.98 110.83,63.71 109.94,61.44 109.05,59.17 108.17,56.90 107.31,54.63 106.46,52.36 105.61,50.09 104.78,47.82 103.96,45.54 103.15,43.27 102.35,41.00"/>
<polyline points="315.43,502.34 315.56,501.28 315.69,500.22 315.82,499.15 315.95,498.09 316.08,497.03 316.21,495.96 316.34,494.90 316.47,493.84 316.59,492.77 316.86,490.50 317.13,488.23 317.39,485.96 317.64,483.69 317.89,481.42 318.14,479.15 318.39,476.88 318.62,474.61 318.86,472.34 319.09,470.07 319.31,467.80 319.53,465.53 319.75,463.26 319.96,460.99 320.16,458.72 320.36,456.45 320.56,454.18 320.74,451.91 320.93,449.64 321.10,447.37 321.27,445.10 321.44,442.83 321.59,440.56 321.74,438.29 321.89,436.02 322.03,433.75 322.16,431.48 322.28,429.21 322.40,426.94 322.51,424.67 322.61,422.40 322.70,420.13 322.79,417.86 322.87,415.59 322.93,413.32 323.00,411.04 323.05,408.77 323.09,406.50 323.12,404.23 323.15,401.96 323.16,399.69 323.17,397.42 323.17,395.15 323.15,392.88 323.13,390.61 323.09,388.34 323.05,386.07 322.99,383.80 322.92,381.53 322.84,379.26 322.75,376.99 322.65,374.72 322.53,372.45 322.41,370.18 322.26,367.91 322.11,365.64 321.94,363.37 321.76,361.10 321.57,358.83 321.36,356.56 321.14,354.29 320.91,352.02 320.65,349.75 320.39,347.48 320.11,345.21 319.81,342.94 319.49,340.67 319.16,338.40 318.82,336.13 318.45,333.86 318.07,331.59 317.68,329.32 317.26,327.05 316.83,324.78 316.37,322.51 315.90,320.24 315.42,317.97 314.91,315.70 314.38,313.43 313.83,311.16 313.26,308.89 312.68,306.62 312.07,304.35 311.44,302.08 310.79,299.81 310.12,297.54 309.42,295.27 308.71,293.00 307.97,290.73 307.22,288.45 306.44,286.18 305.63,283.91 304.81,281.64 303.96,279.37 303.09,277.10 302.20,274.83 301.29,272.56 300.35,270.29 299.39,268.02 298.41,265.75 297.40,263.48 296.37,261.21 295.33,258.94 294.25,256.67 293.16,254.40 292.05,252.13 290.91,249.86 289.75,247.59 288.58,245.32 287.38,243.05 286.16,240.78 284.93,238.51 283.67,236.24 282.39,233.97 281.10,231.70 279.79,229.43 278.46,227.16 277.12,224.89 275.76,222.62 274.39,220.35 273.00,218.08 271.60,215.81 270.18,213.54 268.76,211.27 267.32,209.00 265.87,206.73 264.41,204.46 262.94,202.19 261.46,199.92 259.98,197.65 258.49,195.38 256.99,193.11 255.48,190.84 253.97,188.57 252.46,186.30 250.94,184.03 249.43,181.76 247.91,179.49 246.38,177.22 244.86,174.95 243.34,172.68 241.82,170.41 240.29,168.13 238.78,165.86 237.26,163.59 235.74,161.32 234.23,159.05 232.73,156.78 231.23,154.51 229.73,152.24 228.24,149.97 226.75,147.70 225.27,145.43 223.80,143.16 222.33,140.89 220.87,138.62 219.42,136.35 217.97,134.08 216.54,131.81 215.11,129.54 213.69,127.27 212.28,125.00 210.88,122.73 209.49,120.46 208.10,118.19 206.73,115.92 205.37,113.65 204.01,111.38 202.67,109.11 201.34,106.84 200.01,104.57 198.70,102.30 197.40,100.03 196.11,97.76 194.83,95.49 193.56,93.22 192.30,90.95 191.05,88.68 189.82,86.41 188.59,84.14 187.38,81.87 186.17,79.60 184.98,77.33 183.80,75.06 182.63,72.79 181.47,70.52 180.32,68.25 179.18,65.98 178.06,63.71 176.95,61.44 175.84,59.17 174.75,56.90 173.67,54.63 172.60,52.36 171.54,50.09 170.50,47.82 169.46,45.54 168.44,43.27 167.42,41.00"/>
<polyline points="342.81,502.34 343.01,501.28 343.22,500.22 343.42,499.15 343.62,498.09 343.83,497.03 344.03,495.96 344.23,494.90 344.43,493.84 344.63,492.77 345.06,490.50 345.49,488.23 345.92,485.96 346.34,483.69 346.76,481.42 347.18,479.15 347.60,476.88 348.02,474.61 348.43,472.34 348.85,470.07 349.26,467.80 349.66,465.53 350.07,463.26 350.47,460.99 350.87,458.72 351.27,456.45 351.66,454.18 352.06,451.91 352.45,449.64 352.83,447.37 353.22,445.10 353.60,442.83 353.98,440.56 354.35,438.29 354.72,436.02 355.09,433.75 355.45,431.48 355.81,429.21 356.17,426.94 356.52,424.67 356.87,422.40 357.22,420.13 357.56,417.86 357.90,415.59 358.23,413.32 358.56,411.04 358.88,408.77 359.20,406.50 359.52,404.23 359.83,401.96 360.13,399.69 360.43,397.42 360.72,395.15 361.01,392.88 361.30,390.61 361.58,388.34 361.85,386.07 362.12,383.80 362.38,381.53 362.63,379.26 362.88,376.99 363.12,374.72 363.36,372.45 363.59,370.18 363.81,367.91 364.03,365.64 364.24,363.37 364.44,361.10 364.63,358.83 364.82,356.56 365.00,354.29 365.17,352.02 365.33,349.75 365.48,347.48 365.63,345.21 365.76,342.94 365.89,340.67 366.01,338.40 366.12,336.13 366.22,333.86 366.31,331.59 366.39,329.32 366.46,327.05 366.52,324.78 366.57,322.51 366.61,320.24 366.64,317.97 366.65,315.70 366.66,313.43 366.65,311.16 366.63,308.89 366.60,306.62 366.55,304.35 366.50,302.08 366.43,299.81 366.35,297.54 366.25,295.27 366.14,293.00 366.01,290.73 365.88,288.45 365.72,286.18 365.55,283.91 365.37,281.64 365.17,279.37 364.95,277.10 364.72,274.83 364.47,272.56 364.21,270.29 363.93,268.02 363.63,265.75 363.31,263.48 362.98,261.21 362.62,258.94 362.25,256.67 361.86,254.40 361.45,252.13 361.02,249.86 360.57,247.59 360.10,245.32 359.61,243.05 359.10,240.78 358.57,238.51 358.01,236.24 357.44,233.97 356.84,231.70 356.23,229.43 355.59,227.16 354.92,224.89 354.24,222.62 353.53,220.35 352.80,218.08 352.05,215.81 351.27,213.54 350.47,211.27 349.65,209.00 348.80,206.73 347.93,204.46 347.04,202.19 346.13,199.92 345.19,197.65 344.23,195.38 343.24,193.11 342.23,190.84 341.20,188.57 340.15,186.30 339.08,184.03 337.98,181.76 336.87,179.49 335.73,177.22 334.57,174.95 333.39,172.68 332.19,170.41 330.98,168.13 329.74,165.86 328.49,163.59 327.22,161.32 325.93,159.05 324.63,156.78 323.31,154.51 321.98,152.24 320.63,149.97 319.27,147.70 317.89,145.43 316.51,143.16 315.11,140.89 313.71,138.62 312.29,136.35 310.87,134.08 309.44,131.81 308.00,129.54 306.55,127.27 305.10,125.00 303.65,122.73 302.19,120.46 300.73,118.19 299.26,115.92 297.80,113.65 296.33,111.38 294.86,109.11 293.39,106.84 291.93,104.57 290.46,102.30 289.00,100.03 287.53,97.76 286.08,95.49 284.62,93.22 283.17,90.95 281.73,88.68 280.28,86.41 278.85,84.14 277.42,81.87 276.00,79.60 274.58,77.33 273.17,75.06 271.77,72.79 270.37,70.52 268.99,68.25 267.61,65.98 266.24,63.71 264.88,61.44 263.53,59.17 262.18,56.90 260.85,54.63 259.52,52.36 258.21,50.09 256.90,47.82 255.61,45.54 254.32,43.27 253.05,41.00"/>
<polyline points="370.31,502.34 370.58,501.28 370.84,500.22 371.10,499.15 371.36,498.09 371.63,497.03 371.89,495.96 372.15,494.90 372.41,493.84 372.67,492.77 373.23,490.50 373.79,488.23 374.35,485.96 374.91,483.69 375.47,481.42 376.03,479.15 376.58,476.88 377.14,474.61 377.70,472.34 378.26,470.07 378.81,467.80 379.37,465.53 379.92,463.26 380.48,460.99 381.03,458.72 381.59,456.45 382.14,454.18 382.69,451.91 383.24,449.64 383.79,447.37 384.34,445.10 384.89,442.83 385.44,440.56 385.98,438.29 386.53,436.02 387.07,433.75 387.62,431.48 388.16,429.21 388.70,426.94 389.24,424.67 389.78,422.40 390.31,420.13 390.85,417.86 391.38,415.59 391.92,413.32 392.45,411.04 392.98,408.77 393.50,406.50 394.03,404.23 394.55,401.96 395.07,399.69 395.59,397.42 396.11,395.15 396.63,392.88 397.14,390.61 397.65,388.34 398.16,386.07 398.67,383.80 399.17,381.53 399.67,379.26 400.17,376.99 400.67,374.72 401.16,372.45 401.65,370.18 402.14,367.91 402.62,365.64 403.11,363.37 403.59,361.10 404.06,358.83 404.53,356.56 405.00,354.29 405.47,352.02 405.93,349.75 406.39,347.48 406.85,345.21 407.30,342.94 407.74,340.67 408.19,338.40 408.63,336.13 409.06,333.86 409.49,331.59 409.92,329.32 410.34,327.05 410.76,324.78 411.17,322.51 411.58,320.24 411.98,317.97 412.38,315.70 412.77,313.43 413.16,311.16 413.54,308.89 413.92,306.62 414.29,304.35 414.65,302.08 415.01,299.81 415.36,297.54 415.71,295.27 416.05,293.00 416.38,290.73 416.71,288.45 417.03,286.18 417.34,283.91 417.65,281.64 417.95,279.37 418.24,277.10 418.52,274.83 418.80,272.56 419.07,270.29 419.33,268.02 419.58,265.75 419.82,263.48 420.06,261.21 420.28,258.94 420.50,256.67 420.70,254.40 420.90,252.13 421.09,249.86 421.27,247.59 421.43,245.32 421.59,243.05 421.74,240.78 421.87,238.51 422.00,236.24 422.11,233.97 422.21,231.70 422.30,229.43 422.38,227.16 422.44,224.89 422.49,222.62 422.53,220.35 422.56,218.08 422.57,215.81 422.57,213.54 422.56,211.27 422.53,209.00 422.49,206.73 422.43,204.46 422.35,202.19 422.26,199.92 422.16,197.65 422.04,195.38 421.90,193.11 421.75,190.84 421.57,188.57 421.39,186.30 421.18,184.03 420.95,181.76 420.71,179.49 420.45,177.22 420.17,174.95 419.87,172.68 419.55,170.41 419.21,168.13 418.85,165.86 418.47,163.59 418.07,161.32 417.64,159.05 417.20,156.78 416.73,154.51 416.25,152.24 415.74,149.97 415.20,147.70 414.65,145.43 414.07,143.16 413.47,140.89 412.84,138.62 412.19,136.35 411.52,134.08 410.82,131.81 410.10,129.54 409.36,127.27 408.59,125.00 407.80,122.73 406.98,120.46 406.14,118.19 405.28,115.92 404.39,113.65 403.48,111.38 402.54,109.11 401.58,106.84 400.60,104.57 399.60,102.30 398.57,100.03 397.52,97.76 396.45,95.49 395.36,93.22 394.25,90.95 393.12,88.68 391.96,86.41 390.79,84.14 389.60,81.87 388.40,79.60 387.17,77.33 385.93,75.06 384.68,72.79 383.41,70.52 382.12,68.25 380.82,65.98 379.51,63.71 378.19,61.44 376.86,59.17 375.51,56.90 374.16,54.63 372.80,52.36 371.43,50.09 370.05,47.82 368.67,45.54 367.28,43.27 365.89,41.00"/>
<polyline points="397.94,502.34 398.24,501.28 398.55,500.22 398.86,499.15 399.17,498.09 399.48,497.03 399.79,495.96 400.09,494.90 400.40,493.84 400.71,492.77 401.37,490.50 402.04,488.23 402.70,485.96 403.36,483.69 404.03,481.42 404.69,479.15 405.36,476.88 406.02,474.61 406.69,472.34 407.36,470.07 408.03,467.80 408.70,465.53 409.37,463.26 410.04,460.99 410.71,458.72 411.38,456.45 412.05,454.18 412.72,451.91 413.40,449.64 414.07,447.37 414.75,445.10 415.42,442.83 416.10,440.56 416.77,438.29 417.45,436.02 418.12,433.75 418.80,431.48 419.48,429.21 420.15,426.94 420.83,424.67 421.51,422.40 422.19,420.13 422.86,417.86 423.54,415.59 424.22,413.32 424.90,411.04 425.58,408.77 426.25,406.50 426.93,404.23 427.61,401.96 428.29,399.69 428.97,397.42 429.64,395.15 430.32,392.88 431.00,390.61 431.68,388.34 432.35,386.07 433.03,383.80 433.70,381.53 434.38,379.26 435.06,376.99 435.73,374.72 436.41,372.45 437.08,370.18 437.75,367.91 438.43,365.64 439.10,363.37 439.77,361.10 440.44,358.83 441.11,356.56 441.78,354.29 442.45,352.02 443.12,349.75 443.78,347.48 444.45,345.21 445.11,342.94 445.78,340.67 446.44,338.40 447.10,336.13 447.76,333.86 448.42,331.59 449.08,329.32 449.74,327.05 450.39,324.78 451.05,322.51 451.70,320.24 452.35,317.97 453.00,315.70 453.65,313.43 454.30,311.16 454.94,308.89 455.58,306.62 456.22,304.35 456.86,302.08 457.50,299.81 458.14,297.54 458.77,295.27 459.40,293.00 460.03,290.73 460.66,288.45 461.28,286.18 461.91,283.91 462.53,281.64 463.14,279.37 463.76,277.10 464.37,274.83 464.98,272.56 465.59,270.29 466.19,268.02 466.79,265.75 467.39,263.48 467.99,261.21 468.58,258.94 469.17,256.67 469.75,254.40 470.34,252.13 470.91,249.86 471.49,247.59 472.06,245.32 472.63,243.05 473.19,240.78 473.75,238.51 474.31,236.24 474.86,233.97 475.41,231.70 475.95,229.43 476.49,227.16 477.03,224.89 477.56,222.62 478.08,220.35 478.60,218.08 479.12,215.81 479.63,213.54 480.14,211.27 480.64,209.00 481.13,206.73 481.62,204.46 482.10,202.19 482.58,199.92 483.05,197.65 483.52,195.38 483.98,193.11 484.43,190.84 484.88,188.57 485.32,186.30 485.75,184.03 486.18,181.76 486.60,179.49 487.01,177.22 487.41,174.95 487.81,172.68 488.20,170.41 488.58,168.13 488.95,165.86 489.31,163.59 489.67,161.32 490.02,159.05 490.36,156.78 490.68,154.51 491.00,152.24 491.31,149.97 491.62,147.70 491.91,145.43 492.19,143.16 492.46,140.89 492.71,138.62 492.96,136.35 493.20,134.08 493.43,131.81 493.64,129.54 493.84,127.27 494.03,125.00 494.21,122.73 494.37,120.46 494.53,118.19 494.66,115.92 494.79,113.65 494.90,111.38 495.00,109.11 495.08,106.84 495.15,104.57 495.20,102.30 495.24,100.03 495.26,97.76 495.26,95.49 495.25,93.22 495.22,90.95 495.18,88.68 495.12,86.41 495.04,84.14 494.94,81.87 494.82,79.60 494.69,77.33 494.53,75.06 494.36,72.79 494.16,70.52 493.95,68.25 493.72,65.98 493.46,63.71 493.18,61.44 492.89,59.17 492.57,56.90 492.22,54.63 491.86,52.36 491.47,50.09 491.06,47.82 490.63,45.54 490.17,43.27 489.69,41.00"/>
<polyline points="425.66,502.34 426.00,501.28 426.34,500.22 426.69,499.15 427.03,498.09 427.37,497.03 427.72,495.96 428.06,494.90 428.41,493.84 428.75,492.77 429.49,490.50 430.23,488.23 430.97,485.96 431.71,483.69 432.46,481.42 433.20,479.15 433.95,476.88 434.70,474.61 435.44,472.34 436.20,470.07 436.95,467.80 437.70,465.53 438.46,463.26 439.21,460.99 439.97,458.72 440.73,456.45 441.49,454.18 442.25,451.91 443.01,449.64 443.78,447.37 444.54,445.10 445.31,442.83 446.08,440.56 446.85,438.29 447.62,436.02 448.39,433.75 449.16,431.48 449.94,429.21 450.71,426.94 451.49,424.67 452.27,422.40 453.04,420.13 453.82,417.86 454.61,415.59 455.39,413.32 456.17,411.04 456.95,408.77 457.74,406.50 458.53,404.23 459.31,401.96 460.10,399.69 460.89,397.42 461.68,395.15 462.47,392.88 463.26,390.61 464.05,388.34 464.85,386.07 465.64,383.80 466.44,381.53 467.23,379.26 468.03,376.99 468.83,374.72 469.63,372.45 470.43,370.18 471.23,367.91 472.03,365.64 472.83,363.37 473.63,361.10 474.43,358.83 475.24,356.56 476.04,354.29 476.84,352.02 477.65,349.75 478.45,347.48 479.26,345.21 480.07,342.94 480.87,340.67 481.68,338.40 482.49,336.13 483.30,333.86 484.11,331.59 484.92,329.32 485.73,327.05 486.54,324.78 487.35,322.51 488.16,320.24 488.97,317.97 489.78,315.70 490.59,313.43 491.41,311.16 492.22,308.89 493.03,306.62 493.84,304.35 494.66,302.08 495.47,299.81 496.28,297.54 497.09,295.27 497.91,293.00 498.72,290.73 499.53,288.45 500.35,286.18 501.16,283.91 501.97,281.64 502.78,279.37 503.60,277.10 504.41,274.83 505.22,272.56 506.03,270.29 506.84,268.02 507.66,265.75 508.47,263.48 509.28,261.21 510.09,258.94 510.90,256.67 511.71,254.40 512.52,252.13 513.32,249.86 514.13,247.59 514.94,245.32 515.75,243.05 516.55,240.78 517.36,238.51 518.16,236.24 518.97,233.97 519.77,231.70 520.57,229.43 521.37,227.16 522.17,224.89 522.97,222.62 523.77,220.35 524.57,218.08 525.37,215.81 526.16,213.54 526.96,211.27 527.75,209.00 528.54,206.73 529.33,204.46 530.12,202.19 530.91,199.92 531.70,197.65 532.49,195.38 533.27,193.11 534.05,190.84 534.83,188.57 535.61,186.30 536.39,184.03 537.17,181.76 537.94,179.49 538.71,177.22 539.48,174.95 540.25,172.68 541.02,170.41 541.78,168.13 542.55,165.86 543.31,163.59 544.07,161.32 544.82,159.05 545.58,156.78 546.33,154.51 547.08,152.24 547.82,149.97 548.57,147.70 549.31,145.43 550.05,143.16 550.78,140.89 551.51,138.62 552.24,136.35 552.97,134.08 553.69,131.81 554.42,129.54 555.13,127.27 555.85,125.00 556.56,122.73 557.26,120.46 557.97,118.19 558.67,115.92 559.36,113.65 560.06,111.38 560.75,109.11 561.43,106.84 562.11,104.57 562.79,102.30 563.46,100.03 564.13,97.76 564.79,95.49 565.45,93.22 566.10,90.95 566.75,88.68 567.40,86.41 568.04,84.14 568.67,81.87 569.30,79.60 569.92,77.33 570.54,75.06 571.15,72.79 571.76,70.52 572.36,68.25 572.95,65.98 573.54,63.71 574.12,61.44 574.70,59.17 575.26,56.90 575.83,54.63 576.38,52.36 576.93,50.09 577.47,47.82 578.00,45.54 578.53,43.27 579.04,41.00"/>
<polyline points="453.47,502.34 453.84,501.28 454.20,500.22 454.57,499.15 454.94,498.09 455.31,497.03 455.68,495.96 456.05,494.90 456.42,493.84 456.79,492.77 457.59,490.50 458.38,488.23 459.18,485.96 459.98,483.69 460.78,481.42 461.58,479.15 462.39,476.88 463.19,474.61 464.00,472.34 464.81,470.07 465.62,467.80 466.44,465.53 467.25,463.26 468.07,460.99 468.89,458.72 469.71,456.45 470.54,454.18 471.36,451.91 472.19,449.64 473.02,447.37 473.85,445.10 474.68,442.83 475.51,440.56 476.35,438.29 477.18,436.02 478.02,433.75 478.86,431.48 479.71,429.21 480.55,426.94 481.39,424.67 482.24,422.40 483.09,420.13 483.94,417.86 484.79,415.59 485.65,413.32 486.50,411.04 487.36,408.77 488.22,406.50 489.08,404.23 489.94,401.96 490.80,399.69 491.67,397.42 492.54,395.15 493.40,392.88 494.27,390.61 495.14,388.34 496.02,386.07 496.89,383.80 497.77,381.53 498.64,379.26 499.52,376.99 500.40,374.72 501.28,372.45 502.17,370.18 503.05,367.91 503.94,365.64 504.82,363.37 505.71,361.10 506.60,358.83 507.49,356.56 508.39,354.29 509.28,352.02 510.18,349.75 511.07,347.48 511.97,345.21 512.87,342.94 513.77,340.67 514.67,338.40 515.58,336.13 516.48,333.86 517.39,331.59 518.29,329.32 519.20,327.05 520.11,324.78 521.02,322.51 521.93,320.24 522.85,317.97 523.76,315.70 524.68,313.43 525.59,311.16 526.51,308.89 527.43,306.62 528.35,304.35 529.27,302.08 530.19,299.81 531.12,297.54 532.04,295.27 532.97,293.00 533.89,290.73 534.82,288.45 535.75,286.18 536.68,283.91 537.61,281.64 538.54,279.37 539.47,277.10 540.41,274.83 541.34,272.56 542.28,270.29 543.21,268.02 544.15,265.75 545.09,263.48 546.03,261.21 546.97,258.94 547.91,256.67 548.85,254.40 549.79,252.13 550.73,249.86 551.68,247.59 552.62,245.32 553.57,243.05 554.52,240.78 555.46,238.51 556.41,236.24 557.36,233.97 558.31,231.70 559.26,229.43 560.21,227.16 561.16,224.89 562.11,222.62 563.06,220.35 564.02,218.08 564.97,215.81 565.93,213.54 566.88,211.27 567.84,209.00 568.79,206.73 569.75,204.46 570.71,202.19 571.66,199.92 572.62,197.65 573.58,195.38 574.54,193.11 575.50,190.84 576.46,188.57 577.42,186.30 578.38,184.03 579.34,181.76 580.30,179.49 581.26,177.22 582.22,174.95 583.19,172.68 584.15,170.41 585.11,168.13 586.07,165.86 587.04,163.59 588.00,161.32 588.96,159.05 589.93,156.78 590.89,154.51 591.86,152.24 592.82,149.97 593.78,147.70 594.75,145.43 595.71,143.16 596.67,140.89 597.64,138.62 598.60,136.35 599.57,134.08 600.53,131.81 601.49,129.54 602.46,127.27 603.42,125.00 604.38,122.73 605.35,120.46 606.31,118.19 607.27,115.92 608.23,113.65 609.20,111.38 610.16,109.11 611.12,106.84 612.08,104.57 613.04,102.30 614.00,100.03 614.96,97.76 615.92,95.49 616.88,93.22 617.84,90.95 618.79,88.68 619.75,86.41 620.71,84.14 621.66,81.87 622.62,79.60 623.57,77.33 624.52,75.06 625.48,72.79 626.43,70.52 627.38,68.25 628.33,65.98 629.28,63.71 630.23,61.44 631.17,59.17 632.12,56.90 633.07,54.63 634.01,52.36 634.95,50.09 635.89,47.82 636.83,45.54 637.77,43.27 638.71,41.00"/>
<polyline points="481.35,502.34 481.73,501.28 482.12,500.22 482.51,499.15 482.89,498.09 483.28,497.03 483.67,495.96 484.06,494.90 484.44,493.84 484.83,492.77 485.67,490.50 486.50,488.23 487.33,485.96 488.17,483.69 489.01,481.42 489.86,479.15 490.70,476.88 491.55,474.61 492.40,472.34 493.25,470.07 494.10,467.80 494.96,465.53 495.81,463.26 496.67,460.99 497.53,458.72 498.40,456.45 499.26,454.18 500.13,451.91 501.00,449.64 501.87,447.37 502.75,445.10 503.62,442.83 504.50,440.56 505.38,438.29 506.26,436.02 507.15,433.75 508.03,431.48 508.92,429.21 509.81,426.94 510.70,424.67 511.59,422.40 512.49,420.13 513.39,417.86 514.29,415.59 515.19,413.32 516.09,411.04 517.00,408.77 517.91,406.50 518.82,404.23 519.73,401.96 520.64,399.69 521.56,397.42 522.47,395.15 523.39,392.88 524.31,390.61 525.23,388.34 526.16,386.07 527.08,383.80 528.01,381.53 528.94,379.26 529.87,376.99 530.81,374.72 531.74,372.45 532.68,370.18 533.62,367.91 534.56,365.64 535.50,363.37 536.45,361.10 537.39,358.83 538.34,356.56 539.29,354.29 540.24,352.02 541.19,349.75 542.15,347.48 543.11,345.21 544.06,342.94 545.02,340.67 545.99,338.40 546.95,336.13 547.91,333.86 548.88,331.59 549.85,329.32 550.82,327.05 551.79,324.78 552.77,322.51 553.74,320.24 554.72,317.97 555.70,315.70 556.68,313.43 557.66,311.16 558.64,308.89 559.62,306.62 560.61,304.35 561.60,302.08 562.59,299.81 563.58,297.54 564.57,295.27 565.57,293.00 566.56,290.73 567.56,288.45 568.56,286.18 569.56,283.91 570.56,281.64 571.56,279.37 572.57,277.10 573.58,274.83 574.58,272.56 575.59,270.29 576.60,268.02 577.62,265.75 578.63,263.48 579.65,261.21 580.66,258.94 581.68,256.67 582.70,254.40 583.72,252.13 584.74,249.86 585.77,247.59 586.79,245.32 587.82,243.05 588.85,240.78 589.88,238.51 590.91,236.24 591.94,233.97 592.97,231.70 594.01,229.43 595.05,227.16 596.08,224.89 597.12,222.62 598.16,220.35 599.20,218.08 600.25,215.81 601.29,213.54 602.34,211.27 603.38,209.00 604.43,206.73 605.48,204.46 606.53,202.19 607.58,199.92 608.64,197.65 609.69,195.38 610.75,193.11 611.80,190.84 612.86,188.57 613.92,186.30 614.98,184.03 616.04,181.76 617.10,179.49 618.17,177.22 619.23,174.95 620.30,172.68 621.37,170.41 622.43,168.13 623.50,165.86 624.57,163.59 625.65,161.32 626.72,159.05 627.79,156.78 628.87,154.51 629.94,152.24 631.02,149.97 632.10,147.70 633.18,145.43 634.26,143.16 635.34,140.89 636.42,138.62 637.51,136.35 638.59,134.08 639.68,131.81 640.76,129.54 641.85,127.27 642.94,125.00 644.03,122.73 645.12,120.46 646.21,118.19 647.30,115.92 648.39,113.65 649.49,111.38 650.58,109.11 651.68,106.84 652.78,104.57 653.87,102.30 654.97,100.03 656.07,97.76 657.17,95.49 658.27,93.22 659.37,90.95 660.48,88.68 661.58,86.41 662.68,84.14 663.79,81.87 664.89,79.60 666.00,77.33 667.11,75.06 668.21,72.79 669.32,70.52 670.43,68.25 671.54,65.98 672.65,63.71 673.77,61.44 674.88,59.17 675.99,56.90 677.10,54.63 678.22,52.36 679.33,50.09 680.45,47.82 681.56,45.54 682.68,43.27 683.80,41.00"/>
<polyline points="509.29,502.34 509.68,501.28 510.08,500.22 510.48,499.15 510.88,498.09 511.28,497.03 511.67,495.96 512.07,494.90 512.47,493.84 512.87,492.77 513.73,490.50 514.59,488.23 515.45,485.96 516.31,483.69 517.18,481.42 518.04,479.15 518.91,476.88 519.78,474.61 520.66,472.34 521.53,470.07 522.41,467.80 523.29,465.53 524.18,463.26 525.06,460.99 525.95,458.72 526.84,456.45 527.73,454.18 528.63,451.91 529.52,449.64 530.42,447.37 531.32,445.10 532.23,442.83 533.13,440.56 534.04,438.29 534.95,436.02 535.86,433.75 536.77,431.48 537.69,429.21 538.61,426.94 539.53,424.67 540.45,422.40 541.38,420.13 542.30,417.86 543.23,415.59 544.16,413.32 545.10,411.04 546.03,408.77 546.97,406.50 547.91,404.23 548.85,401.96 549.80,399.69 550.74,397.42 551.69,395.15 552.64,392.88 553.59,390.61 554.54,388.34 555.50,386.07 556.46,383.80 557.42,381.53 558.38,379.26 559.35,376.99 560.31,374.72 561.28,372.45 562.25,370.18 563.22,367.91 564.20,365.64 565.17,363.37 566.15,361.10 567.13,358.83 568.11,356.56 569.10,354.29 570.08,352.02 571.07,349.75 572.06,347.48 573.05,345.21 574.05,342.94 575.04,340.67 576.04,338.40 577.04,336.13 578.04,333.86 579.04,331.59 580.05,329.32 581.06,327.05 582.06,324.78 583.07,322.51 584.09,320.24 585.10,317.97 586.12,315.70 587.14,313.43 588.16,311.16 589.18,308.89 590.20,306.62 591.23,304.35 592.26,302.08 593.28,299.81 594.32,297.54 595.35,295.27 596.38,293.00 597.42,290.73 598.46,288.45 599.50,286.18 600.54,283.91 601.58,281.64 602.63,279.37 603.68,277.10 604.73,274.83 605.78,272.56 606.83,270.29 607.88,268.02 608.94,265.75 610.00,263.48 611.06,261.21 612.12,258.94 613.18,256.67 614.24,254.40 615.31,252.13 616.38,249.86 617.45,247.59 618.52,245.32 619.59,243.05 620.67,240.78 621.74,238.51 622.82,236.24 623.90,233.97 624.98,231.70 626.06,229.43 627.15,227.16 628.24,224.89 629.32,222.62 630.41,220.35 631.50,218.08 632.60,215.81 633.69,213.54 634.79,211.27 635.88,209.00 636.98,206.73 638.08,204.46 639.19,202.19 640.29,199.92 641.40,197.65 642.50,195.38 643.61,193.11 644.72,190.84 645.83,188.57 646.95,186.30 648.06,184.03 649.18,181.76 650.30,179.49 651.42,177.22 652.54,174.95 653.66,172.68 654.78,170.41 655.91,168.13 657.03,165.86 658.16,163.59 659.29,161.32 660.42,159.05 661.56,156.78 662.69,154.51 663.83,152.24 664.97,149.97 666.10,147.70 667.24,145.43 668.39,143.16 669.53,140.89 670.67,138.62 671.82,136.35 672.97,134.08 674.12,131.81 675.27,129.54 676.42,127.27 677.57,125.00 678.72,122.73 679.88,120.46 681.04,118.19 682.20,115.92 683.36,113.65 684.52,111.38 685.68,109.11 686.84,106.84 688.01,104.57 689.18,102.30 690.34,100.03 691.51,97.76 692.69,95.49 693.86,93.22 695.03,90.95 696.21,88.68 697.38,86.41 698.56,84.14 699.74,81.87 700.92,79.60 702.10,77.33 703.28,75.06 704.47,72.79 705.65,70.52 706.84,68.25 708.02,65.98 709.21,63.71 710.40,61.44 711.60,59.17 712.79,56.90 713.98,54.63 715.18,52.36 716.37,50.09 717.57,47.82 718.77,45.54 719.97,43.27 721.17,41.00"/>
</g>
<g fill="none" stroke="#5aa85a" stroke-width="0.55" opacity="0.75" stroke-dasharray="0.7 0.6">
<polyline points="14.75,502.34 20.66,494.55 26.82,486.43 33.26,477.96 40.00,469.10 47.08,459.83 54.52,450.10 62.36,439.86 70.65,429.06 79.44,417.63 88.80,405.49 98.81,392.55"/>
<polyline points="73.37,502.34 79.04,494.55 84.96,486.43 91.14,477.96 97.61,469.10 104.41,459.83 111.56,450.10 119.10,439.86 127.08,429.06 135.54,417.63 144.55,405.49 154.19,392.55"/>
<polyline points="121.56,502.34 127.02,494.55 132.72,486.43 138.69,477.96 144.93,469.10 151.49,459.83 158.39,450.10 165.68,439.86 173.38,429.06 181.56,417.63 190.28,405.49 199.60,392.55"/>
<polyline points="173.41,502.34 178.64,494.55 184.11,486.43 189.82,477.96 195.82,469.10 202.11,459.83 208.74,450.10 215.73,439.86 223.14,429.06 231.00,417.63 239.39,405.49 248.36,392.55"/>
<polyline points="218.16,502.34 223.18,494.55 228.44,486.43 233.93,477.96 239.70,469.10 245.76,459.83 252.14,450.10 258.88,439.86 266.01,429.06 273.60,417.63 281.68,405.49 290.34,392.55"/>
<polyline points="248.08,502.34 252.97,494.55 258.08,486.43 263.42,477.96 269.03,469.10 274.93,459.83 281.14,450.10 287.70,439.86 294.65,429.06 302.04,417.63 309.93,405.49 318.37,392.55"/>
<polyline points="289.21,502.34 293.90,494.55 298.80,486.43 303.93,477.96 309.32,469.10 314.99,459.83 320.96,450.10 327.28,439.86 333.97,429.06 341.09,417.63 348.69,405.49 356.84,392.55"/>
<polyline points="326.20,502.34 330.70,494.55 335.42,486.43 340.36,477.96 345.54,469.10 351.00,459.83 356.75,450.10 362.84,439.86 369.29,429.06 376.16,417.63 383.50,405.49 391.37,392.55"/>
<polyline points="353.23,502.34 357.60,494.55 362.17,486.43 366.96,477.96 372.00,469.10 377.30,459.83 382.89,450.10 388.81,439.86 395.08,429.06 401.77,417.63 408.91,405.49 416.57,392.55"/>
</g>
<g stroke="#8a8a8a" stroke-width="0.55" opacity="0.85">
<line x1="-506.96" y1="502.5" x2="-14.12" y2="41.2"/>
<line x1="-450.88" y1="502.5" x2="41.96" y2="41.2"/>
<line x1="-394.80" y1="502.5" x2="98.04" y2="41.2"/>
<line x1="-338.72" y1="502.5" x2="154.12" y2="41.2"/>
<line x1="-282.64" y1="502.5" x2="210.20" y2="41.2"/>
<line x1="-226.56" y1="502.5" x2="266.28" y2="41.2"/>
<line x1="-170.48" y1="502.5" x2="322.36" y2="41.2"/>
<line x1="-114.40" y1="502.5" x2="378.44" y2="41.2"/>
<line x1="-58.32" y1="502.5" x2="434.52" y2="41.2"/>
<line x1="-2.24" y1="502.5" x2="490.60" y2="41.2"/>
<line x1="109.92" y1="502.5" x2="602.76" y2="41.2"/>
<line x1="222.08" y1="502.5" x2="714.92" y2="41.2"/>
<line x1="278.16" y1="502.5" x2="771.00" y2="41.2"/>
<line x1="334.24" y1="502.5" x2="827.08" y2="41.2"/>
<line x1="390.32" y1="502.5" x2="883.16" y2="41.2"/>
<line x1="446.40" y1="502.5" x2="939.24" y2="41.2"/>
<line x1="502.48" y1="502.5" x2="995.32" y2="41.2"/>
</g>
<line x1="166.00" y1="502.50" x2="658.84" y2="41.20" stroke="#5a5ad8" stroke-width="0.7" stroke-dasharray="3 0.9" opacity="0.85"/>
<line x1="53.84" y1="502.50" x2="546.68" y2="41.20" stroke="#5a5ad8" stroke-width="0.7" stroke-dasharray="3 0.9" opacity="0.85"/>
<line x1="468.75" y1="201.00" x2="468.75" y2="494.70" stroke="#b5b5b5" stroke-width="0.6" stroke-dasharray="0.6 1"/>
<line x1="437.20" y1="476.70" x2="437.20" y2="494.70" stroke="#b5b5b5" stroke-width="0.6" stroke-dasharray="0.6 1"/>
<line x1="113.75" y1="477.50" x2="113.75" y2="493.70" stroke="#b9dcea" stroke-width="0.9" />
<text x="107.50" y="475.80" font-size="5.6" fill="#b9dcea" font-weight="bold" textLength="12.00" lengthAdjust="spacingAndGlyphs">EIL</text>
<line x1="81.90" y1="287.50" x2="81.90" y2="358.80" stroke="#5fae5f" stroke-width="1.2" />
<text x="73.60" y="283.90" font-size="7.0" fill="#4fa64f" font-weight="bold" textLength="16.70" lengthAdjust="spacingAndGlyphs">HGZ</text>
<line x1="97.50" y1="383.00" x2="97.50" y2="432.50" stroke="#d98a8a" stroke-width="1.0" />
<text x="90.30" y="380.70" font-size="7.7" fill="#cd6a6a" textLength="12.20" lengthAdjust="spacingAndGlyphs">8.5</text>
<polyline points="246.90,424.70 253.90,456.60 257.80,494.80" fill="none" stroke="#b060c0" stroke-width="0.6" stroke-dasharray="0.7 0.9" opacity="0.8"/>
<polyline points="264.60,41.00 257.60,119.00 252.60,138.00 245.60,171.00 235.20,176.60 214.80,199.20 207.00,205.90 186.00,211.50 179.20,215.50 180.00,220.00 190.80,238.00 196.90,250.50 212.50,271.60 217.20,286.40 226.60,302.00 225.80,305.20 235.20,317.70 235.20,322.00 232.00,324.70 232.80,334.00 232.00,348.10 235.20,363.75 232.00,366.10 233.60,370.00 237.50,379.40 253.90,387.20 253.10,394.20 246.10,404.40 246.10,425.30 246.90,438.60 243.75,440.60 265.60,445.30 257.00,447.20 270.30,451.10 265.60,453.75 281.25,459.70 275.80,462.00 276.60,467.50 274.20,473.00 292.20,478.40 293.75,483.10 296.60,495.30" fill="none" stroke="#6fa8ff" stroke-width="0.75" stroke-linejoin="round" opacity="0.9"/>
<polyline points="123.80,41.40 131.52,60.40 149.41,96.50 171.02,134.30 178.75,148.10 190.00,165.00 235.10,238.00 237.53,239.60 282.00,320.00 286.40,334.90 295.29,360.60 301.88,387.20 304.56,405.00 305.51,416.90 307.45,426.10 310.21,451.90 313.25,476.90 334.03,492.50" fill="none" stroke="#7a7a7a" stroke-width="0.9" stroke-dasharray="3.4 1.5"/>
<polyline points="127.70,41.40 134.16,60.40 149.64,96.50 168.74,134.30 175.69,148.10 186.60,165.00 230.50,238.00 232.94,239.60 278.10,320.00 282.70,334.90 291.93,360.60 299.07,387.20 302.48,405.00 303.91,416.90 306.85,426.10 309.40,451.90 312.25,476.90 333.12,492.50" fill="none" stroke="#7a7a7a" stroke-width="0.9" stroke-dasharray="3.4 1.5"/>
<polyline points="153.40,41.00 91.25,119.25 81.90,138.00 63.90,171.60 57.30,176.30 71.70,199.70 73.30,206.75 75.60,210.20 102.20,211.40 102.20,213.00 107.70,211.75 139.70,216.10 135.00,218.00 160.80,220.50 156.40,221.90 155.60,233.60 157.20,234.90 148.60,238.60 172.00,242.20 160.30,256.30 147.80,264.10 143.90,271.10 108.00,286.75 161.90,290.70 169.70,294.90 155.60,298.50 174.40,301.60 151.70,304.70 175.20,307.10 170.50,312.00 159.50,315.30 185.30,317.70 161.90,323.60 115.00,324.90 100.20,331.10 140.00,333.00 96.25,336.10 68.90,348.30 71.25,352.50 94.70,357.20 90.80,360.30 130.60,364.25 89.20,365.50 145.50,369.25 121.25,371.30 129.00,375.20 149.40,378.00 192.20,381.25 230.50,386.40 215.60,394.70 200.00,395.80 172.70,403.10 143.75,423.10 121.10,432.20 140.60,438.00 129.70,441.10 237.50,445.00 215.60,446.90 249.20,450.00 239.00,453.70 271.90,459.70 260.20,461.60 254.70,472.50 292.20,478.10 293.40,480.00 285.90,495.60" fill="none" stroke="#6495ed" stroke-width="2.8" stroke-linejoin="round" stroke-linecap="butt"/>
<polyline points="268.30,380.90 280.80,393.40 290.50,405.00 302.60,419.20 308.80,426.30 316.40,433.10 317.80,437.80 311.00,441.40 303.90,447.20 307.00,462.80 314.80,473.75 306.25,477.70 310.90,482.30 329.70,492.50" fill="none" stroke="#b02a2a" stroke-width="1.7" stroke-dasharray="1.7 2.3" opacity="0.9"/>
<polyline points="265.60,41.10 262.50,77.00 260.90,97.40 259.00,119.25 255.00,138.00 251.25,156.75 248.40,171.10 237.50,175.50 217.20,198.20 208.60,205.20 186.70,211.10 179.70,215.30 180.50,220.00 191.40,238.00 193.00,242.70 217.20,270.00 231.25,296.60 234.40,299.00 236.70,306.75 250.80,323.20 251.80,328.00 252.30,333.30 263.30,355.90 264.40,361.40 261.70,371.60 265.60,380.90 278.10,393.40 287.90,405.00 300.00,419.20 306.20,426.30 313.30,432.60 314.70,437.60 309.00,441.00 299.20,444.00 298.40,448.75 301.60,455.00 301.60,458.90 298.40,462.80 304.70,473.75 294.50,477.20 293.40,479.70 303.90,487.80 321.10,495.30" fill="none" stroke="#ff0000" stroke-width="2.95" stroke-linejoin="round" stroke-linecap="butt"/>
<polyline points="132.40,41.40 137.50,60.40 150.40,96.50 166.80,134.30 172.80,148.10 182.70,165.00 228.10,238.00 230.50,239.60 273.40,320.00 278.10,334.90 287.50,360.60 295.30,387.20 300.00,405.00 302.30,416.90 306.25,426.10 308.60,451.90 311.25,476.90" fill="none" stroke="#ff0000" stroke-width="1.6" stroke-dasharray="5 2.4"/>
<polyline points="311.25,476.90 332.80,492.50" fill="none" stroke="#c62828" stroke-width="1.6" stroke-dasharray="4.4 2.2"/>
<text x="221.00" y="199.25" font-size="7.5" fill="#ff5c5c" textLength="39.60" lengthAdjust="spacingAndGlyphs">←1926J/kg</text>
<text x="309.00" y="352.00" font-size="7.5" fill="#ff5c5c" textLength="34.75" lengthAdjust="spacingAndGlyphs">←468J/kg</text>
<text x="325.60" y="426.10" font-size="7.5" fill="#ff5c5c" textLength="30.00" lengthAdjust="spacingAndGlyphs">←17J/kg</text>
<text x="33.40" y="183.30" font-size="7.6" fill="#5aac5a" textLength="20.80" lengthAdjust="spacingAndGlyphs">1% →</text>
<text x="106.90" y="271.90" font-size="7.6" fill="#5aac5a" textLength="25.60" lengthAdjust="spacingAndGlyphs">24% →</text>
<text x="37.20" y="351.40" font-size="7.6" fill="#5aac5a" textLength="20.80" lengthAdjust="spacingAndGlyphs">4% →</text>
<text x="101.60" y="426.00" font-size="7.6" fill="#5aac5a" textLength="25.00" lengthAdjust="spacingAndGlyphs">10% →</text>
<text x="218.75" y="472.50" font-size="7.6" fill="#5aac5a" textLength="25.30" lengthAdjust="spacingAndGlyphs">55% →</text>
<text x="448.10" y="92.50" font-size="8.6" fill="#8e8e8e" font-weight="bold" textLength="42.50" lengthAdjust="spacingAndGlyphs">←MUMPL</text>
<text x="448.10" y="198.75" font-size="8.6" fill="#8e8e8e" font-weight="bold" textLength="33.50" lengthAdjust="spacingAndGlyphs">←MUEL</text>
<text x="448.10" y="425.00" font-size="8.6" fill="#8e8e8e" font-weight="bold" textLength="40.20" lengthAdjust="spacingAndGlyphs">←MULFC</text>
<text x="448.10" y="477.70" font-size="8.6" fill="#8e8e8e" font-weight="bold" textLength="37.10" lengthAdjust="spacingAndGlyphs">←SBLCL</text>
<text x="427.30" y="475.60" font-size="4.6" fill="#9a9a9a" font-weight="bold" textLength="15.70" lengthAdjust="spacingAndGlyphs">←PBL</text>
<text x="419.00" y="394.80" font-size="5.8" fill="#8db1f2" font-weight="bold" textLength="19.75" lengthAdjust="spacingAndGlyphs">←FRZ</text>
<text x="419.00" y="426.40" font-size="5.8" fill="#8db1f2" font-weight="bold" textLength="22.90" lengthAdjust="spacingAndGlyphs">←WB0</text>
<text x="38.90" y="152.90" font-size="6.4" fill="#4a4a4a">13km</text>
<text x="38.90" y="271.80" font-size="6.4" fill="#4a4a4a">9km</text>
<text x="38.90" y="326.30" font-size="6.4" fill="#4a4a4a">7km</text>
<text x="38.90" y="377.50" font-size="6.4" fill="#4a4a4a">5km</text>
<text x="38.90" y="426.30" font-size="6.4" fill="#4a4a4a">3km</text>
<text x="38.90" y="473.00" font-size="6.4" fill="#4a4a4a">1km</text>
<text x="38.75" y="495.20" font-size="5.9" fill="#6a6a6a" textLength="40.00" lengthAdjust="spacingAndGlyphs">-SFC (6m) -</text>
<text x="269.20" y="503.70" font-size="6.6" fill="#7fa6ef" font-weight="bold" textLength="16.60" lengthAdjust="spacingAndGlyphs">68°F</text>
<text x="321.40" y="503.70" font-size="6.6" fill="#ff3b3b" font-weight="bold" textLength="16.10" lengthAdjust="spacingAndGlyphs">79°F</text>
<line x1="13.30" y1="177.00" x2="15.50" y2="177.00" stroke="#333" stroke-width="0.7" />
<text x="17.30" y="179.80" font-size="7.1" fill="#000" font-weight="bold">200</text>
<line x1="13.30" y1="256.55" x2="15.50" y2="256.55" stroke="#333" stroke-width="0.7" />
<text x="17.30" y="259.35" font-size="7.1" fill="#000" font-weight="bold">300</text>
<line x1="13.30" y1="313.00" x2="15.50" y2="313.00" stroke="#333" stroke-width="0.7" />
<text x="17.30" y="315.80" font-size="7.1" fill="#000" font-weight="bold">400</text>
<line x1="13.30" y1="356.78" x2="15.50" y2="356.78" stroke="#333" stroke-width="0.7" />
<text x="17.30" y="359.58" font-size="7.1" fill="#000" font-weight="bold">500</text>
<line x1="13.30" y1="392.55" x2="15.50" y2="392.55" stroke="#333" stroke-width="0.7" />
<text x="17.30" y="395.35" font-size="7.1" fill="#000" font-weight="bold">600</text>
<line x1="13.30" y1="422.79" x2="15.50" y2="422.79" stroke="#333" stroke-width="0.7" />
<text x="17.30" y="425.59" font-size="7.1" fill="#000" font-weight="bold">700</text>
<line x1="13.30" y1="448.99" x2="15.50" y2="448.99" stroke="#333" stroke-width="0.7" />
<text x="17.30" y="451.79" font-size="7.1" fill="#000" font-weight="bold">800</text>
<line x1="13.30" y1="472.10" x2="15.50" y2="472.10" stroke="#333" stroke-width="0.7" />
<text x="17.30" y="474.90" font-size="7.1" fill="#000" font-weight="bold">900</text>
<line x1="13.30" y1="492.77" x2="15.50" y2="492.77" stroke="#333" stroke-width="0.7" />
<text x="17.30" y="495.57" font-size="7.1" fill="#000" font-weight="bold">1000</text>
<text x="53.84" y="501.10" font-size="7.1" fill="#000" font-weight="bold" text-anchor="middle">−20</text>
<text x="109.92" y="501.10" font-size="7.1" fill="#000" font-weight="bold" text-anchor="middle">−10</text>
<text x="166.40" y="501.10" font-size="7.1" fill="#000" font-weight="bold" text-anchor="middle">0</text>
<text x="222.48" y="501.10" font-size="7.1" fill="#000" font-weight="bold" text-anchor="middle">10</text>
<text x="278.56" y="501.10" font-size="7.1" fill="#000" font-weight="bold" text-anchor="middle">20</text>
<text x="334.64" y="501.10" font-size="7.1" fill="#000" font-weight="bold" text-anchor="middle">30</text>
<text x="390.72" y="501.10" font-size="7.1" fill="#000" font-weight="bold" text-anchor="middle">40</text>
<text x="446.80" y="501.10" font-size="7.1" fill="#000" font-weight="bold" text-anchor="middle">50</text>
<text x="502.88" y="501.10" font-size="7.1" fill="#000" font-weight="bold" text-anchor="middle">60</text>
<rect x="15.50" y="43.50" width="75.00" height="80.50" fill="#fff" stroke="#dedede" stroke-width="0.5" fill-opacity="0.8" rx="1.2"/>
<line x1="17.50" y1="48.60" x2="30.30" y2="48.60" stroke="#6fa8ff" stroke-width="0.75" />
<text x="34.20" y="50.80" font-size="5.1" fill="#161616" textLength="46.00" lengthAdjust="spacingAndGlyphs">WETBULB TEMP</text>
<line x1="17.50" y1="57.38" x2="30.30" y2="57.38" stroke="#a52a2a" stroke-width="1.7" stroke-dasharray="1.7 2.9"/>
<text x="34.20" y="59.58" font-size="5.1" fill="#161616" textLength="42.00" lengthAdjust="spacingAndGlyphs">VIRTUAL TEMP</text>
<line x1="17.50" y1="66.16" x2="30.30" y2="66.16" stroke="#6495ed" stroke-width="2.6" />
<text x="34.20" y="68.36" font-size="5.1" fill="#161616" textLength="30.50" lengthAdjust="spacingAndGlyphs">DEWPOINT</text>
<line x1="17.50" y1="74.94" x2="30.30" y2="74.94" stroke="#ff0000" stroke-width="3.0" />
<text x="34.20" y="77.14" font-size="5.1" fill="#161616" textLength="42.00" lengthAdjust="spacingAndGlyphs">TEMPERATURE</text>
<line x1="17.50" y1="83.72" x2="30.30" y2="83.72" stroke="#ff0000" stroke-width="1.6" stroke-dasharray="4.6 2.6"/>
<text x="34.20" y="85.92" font-size="5.1" fill="#161616" textLength="51.50" lengthAdjust="spacingAndGlyphs">MUECAPE PARCEL</text>
<line x1="17.50" y1="92.50" x2="30.30" y2="92.50" stroke="#8a8a8a" stroke-width="0.9" stroke-dasharray="3.4 1.5"/>
<text x="34.20" y="94.70" font-size="5.1" fill="#161616" textLength="46.50" lengthAdjust="spacingAndGlyphs">SBCAPE PARCEL</text>
<line x1="17.50" y1="101.28" x2="30.30" y2="101.28" stroke="#8a8a8a" stroke-width="0.9" stroke-dasharray="3.4 1.5"/>
<text x="34.20" y="103.48" font-size="5.1" fill="#161616" textLength="47.00" lengthAdjust="spacingAndGlyphs">MLCAPE PARCEL</text>
<line x1="17.50" y1="110.06" x2="30.30" y2="110.06" stroke="#8a8a8a" stroke-width="0.9" stroke-dasharray="3.4 1.5"/>
<text x="34.20" y="112.26" font-size="5.1" fill="#161616" textLength="48.00" lengthAdjust="spacingAndGlyphs">MUCAPE PARCEL</text>
<line x1="17.50" y1="118.84" x2="30.30" y2="118.84" stroke="#c080d0" stroke-width="0.6" stroke-dasharray="0.7 0.9"/>
<text x="34.20" y="121.04" font-size="5.1" fill="#161616" textLength="53.30" lengthAdjust="spacingAndGlyphs">DWNDRFT PARCEL</text>
</g>
<rect x="13.30" y="41.20" width="530.20" height="461.30" fill="none" stroke="#7a7a7a" stroke-width="0.9" />
<defs><clipPath id="hoc"><rect x="580.5" y="41.2" width="427.20" height="461.30"/></clipPath></defs>
<g clip-path="url(#hoc)">
<rect x="580.50" y="41.20" width="427.20" height="461.30" fill="#fff" stroke="none" stroke-width="0" />
<circle cx="774.6" cy="296.6" r="38.32" fill="none" stroke="#b8b8b8" stroke-width="0.5" stroke-dasharray="2.3 1.5"/>
<circle cx="774.6" cy="296.6" r="76.64" fill="none" stroke="#7c7c7c" stroke-width="0.7"/>
<circle cx="774.6" cy="296.6" r="114.96" fill="none" stroke="#b8b8b8" stroke-width="0.5" stroke-dasharray="2.3 1.5"/>
<circle cx="774.6" cy="296.6" r="153.28" fill="none" stroke="#7c7c7c" stroke-width="0.7"/>
<circle cx="774.6" cy="296.6" r="191.60" fill="none" stroke="#b8b8b8" stroke-width="0.5" stroke-dasharray="2.3 1.5"/>
<circle cx="774.6" cy="296.6" r="229.92" fill="none" stroke="#7c7c7c" stroke-width="0.7"/>
<circle cx="774.6" cy="296.6" r="268.24" fill="none" stroke="#b8b8b8" stroke-width="0.5" stroke-dasharray="2.3 1.5"/>
<circle cx="774.6" cy="296.6" r="306.56" fill="none" stroke="#7c7c7c" stroke-width="0.7"/>
<circle cx="774.6" cy="296.6" r="344.88" fill="none" stroke="#b8b8b8" stroke-width="0.5" stroke-dasharray="2.3 1.5"/>
<circle cx="774.6" cy="296.6" r="383.20" fill="none" stroke="#7c7c7c" stroke-width="0.7"/>
<line x1="580.50" y1="296.60" x2="1007.70" y2="296.60" stroke="#888" stroke-width="0.6" stroke-dasharray="2.0 0.9"/>
<line x1="774.60" y1="41.20" x2="774.60" y2="502.50" stroke="#888" stroke-width="0.6" stroke-dasharray="2.0 0.9"/>
<text x="812.72" y="295.60" font-size="6.5" fill="#c6c6c6">10</text>
<text x="737.18" y="295.60" font-size="6.5" fill="#c6c6c6">10</text>
<text x="775.30" y="257.48" font-size="6.5" fill="#c6c6c6">10</text>
<text x="775.30" y="334.12" font-size="6.5" fill="#c6c6c6">10</text>
<text x="889.36" y="295.60" font-size="6.5" fill="#c6c6c6">30</text>
<text x="660.54" y="295.60" font-size="6.5" fill="#c6c6c6">30</text>
<text x="775.30" y="180.84" font-size="6.5" fill="#c6c6c6">30</text>
<text x="775.30" y="410.76" font-size="6.5" fill="#c6c6c6">30</text>
<text x="966.00" y="295.60" font-size="6.5" fill="#c6c6c6">50</text>
<text x="583.90" y="295.60" font-size="6.5" fill="#c6c6c6">50</text>
<text x="775.30" y="104.20" font-size="6.5" fill="#c6c6c6">50</text>
<text x="775.30" y="487.40" font-size="6.5" fill="#c6c6c6">50</text>
<polygon points="769.60,296.70 716.40,255.90 743.75,258.75 727.30,230.20 721.90,221.60 728.90,215.30" fill="#add8e6" fill-opacity="0.33" stroke="#add8e6" stroke-opacity="0.55" stroke-width="0.6"/>
<polyline points="877.30,293.40 891.10,289.20 892.70,285.80 896.90,285.30 911.40,293.40 927.80,308.75 940.30,325.60 927.50,323.60" fill="none" stroke="#ffeb99" stroke-width="3.6" stroke-linejoin="round" stroke-linecap="round"/>
<polyline points="822.50,280.50 826.40,282.50 834.80,291.25 829.10,281.70 827.80,275.50 827.70,268.40 814.70,263.75 813.10,259.50 819.40,256.70 828.75,258.40 827.80,268.40 827.60,275.50 832.50,270.50 838.75,268.10 845.00,273.60 865.30,294.70 870.00,295.50 877.30,293.40" fill="none" stroke="#ffd400" stroke-width="3.6" stroke-linejoin="round" stroke-linecap="round"/>
<polyline points="792.40,261.40 794.80,265.90 792.00,267.70 786.60,264.50 774.10,258.30 768.60,255.50 774.10,258.30 780.90,264.50 785.80,276.25 791.25,285.60 805.70,281.10 807.50,277.80 805.30,268.40 802.90,264.40 810.80,266.10 817.00,270.80 820.20,277.00 822.50,280.50" fill="none" stroke="#ff8c00" stroke-width="3.6" stroke-linejoin="round" stroke-linecap="round"/>
<polyline points="732.80,202.00 739.00,191.10 756.25,190.30 764.80,193.40 775.00,189.00 764.80,206.70 757.80,229.40 775.00,240.30 782.20,247.20 792.30,261.40" fill="none" stroke="#ff0000" stroke-width="3.6" stroke-linejoin="round" stroke-linecap="butt"/>
<polyline points="716.40,256.00 743.75,258.75 727.30,230.20 721.90,221.60 728.90,215.30 729.70,207.50 732.80,202.00" fill="none" stroke="#800080" stroke-width="3.6" stroke-linejoin="round" stroke-linecap="butt"/>
<circle cx="727.30" cy="230.30" r="4.1" fill="#fff" stroke="#000" stroke-width="0.65"/>
<text x="727.30" y="232.35" font-size="5.6" fill="#000" font-weight="bold" text-anchor="middle">.5</text>
<circle cx="732.80" cy="202.00" r="4.1" fill="#fff" stroke="#000" stroke-width="0.65"/>
<text x="732.80" y="204.05" font-size="5.6" fill="#000" font-weight="bold" text-anchor="middle">1</text>
<circle cx="764.80" cy="206.70" r="4.1" fill="#fff" stroke="#000" stroke-width="0.65"/>
<text x="764.80" y="208.75" font-size="5.6" fill="#000" font-weight="bold" text-anchor="middle">2</text>
<circle cx="792.30" cy="261.40" r="4.1" fill="#fff" stroke="#000" stroke-width="0.65"/>
<text x="792.30" y="263.45" font-size="5.6" fill="#000" font-weight="bold" text-anchor="middle">3</text>
<circle cx="781.00" cy="264.50" r="4.1" fill="#fff" stroke="#000" stroke-width="0.65"/>
<text x="781.00" y="266.55" font-size="5.6" fill="#000" font-weight="bold" text-anchor="middle">4</text>
<circle cx="805.70" cy="281.10" r="4.1" fill="#fff" stroke="#000" stroke-width="0.65"/>
<text x="805.70" y="283.15" font-size="5.6" fill="#000" font-weight="bold" text-anchor="middle">5</text>
<circle cx="822.50" cy="280.60" r="4.1" fill="#fff" stroke="#000" stroke-width="0.65"/>
<text x="822.50" y="282.65" font-size="5.6" fill="#000" font-weight="bold" text-anchor="middle">6</text>
<circle cx="813.10" cy="259.50" r="4.1" fill="#fff" stroke="#000" stroke-width="0.65"/>
<text x="813.10" y="261.55" font-size="5.6" fill="#000" font-weight="bold" text-anchor="middle">7</text>
<circle cx="827.60" cy="275.50" r="4.1" fill="#fff" stroke="#000" stroke-width="0.65"/>
<text x="827.60" y="277.55" font-size="5.6" fill="#000" font-weight="bold" text-anchor="middle">8</text>
<circle cx="877.30" cy="293.40" r="4.1" fill="#fff" stroke="#000" stroke-width="0.65"/>
<text x="877.30" y="295.45" font-size="5.6" fill="#000" font-weight="bold" text-anchor="middle">9</text>
<circle cx="911.40" cy="293.40" r="4.1" fill="#fff" stroke="#000" stroke-width="0.65"/>
<text x="911.40" y="295.45" font-size="5.6" fill="#000" font-weight="bold" text-anchor="middle">11</text>
<text x="774.20" y="186.40" font-size="7.5" fill="#000" font-weight="bold" textLength="12.00" lengthAdjust="spacingAndGlyphs">LM</text>
<text x="771.80" y="298.00" font-size="7.5" fill="#000" font-weight="bold" textLength="12.80" lengthAdjust="spacingAndGlyphs">RM</text>
<text x="802.20" y="257.50" font-size="7.5" fill="#000" font-weight="bold" textLength="15.80" lengthAdjust="spacingAndGlyphs">MW</text>
<text x="748.10" y="267.90" font-size="5.2" fill="#b5454d" font-weight="bold" textLength="13.10" lengthAdjust="spacingAndGlyphs">DTM</text>
<polygon points="752.1,273.7 757.3,273.7 754.7,278.3" fill="#b5454d"/>
<text x="865.60" y="300.20" font-size="5.8" fill="#ffc069" font-weight="bold" textLength="9.90" lengthAdjust="spacingAndGlyphs">DN</text>
<text x="837.50" y="336.10" font-size="5.8" fill="#ffc987" font-weight="bold" textLength="9.40" lengthAdjust="spacingAndGlyphs">UP</text>
<ellipse cx="769.8" cy="296.9" rx="3.2" ry="0.9" fill="#9ab" opacity="0.7"/>
<text x="589.75" y="52.00" font-size="8.6" fill="#5c5c5c" font-weight="bold" textLength="151.75" lengthAdjust="spacingAndGlyphs">SM: RIGHT MOVING | W @ 1 kts</text>
<text x="589.75" y="64.50" font-size="8.6" fill="#6c6c6c" textLength="62.50" lengthAdjust="spacingAndGlyphs">RM: W @ 1 kts</text>
<text x="589.75" y="80.75" font-size="8.6" fill="#6c6c6c" textLength="64.50" lengthAdjust="spacingAndGlyphs">LM: N @ 29 kts</text>
<text x="589.75" y="97.50" font-size="8.6" fill="#6c6c6c" textLength="80.00" lengthAdjust="spacingAndGlyphs">MW: NNE @ 12 kts</text>
<text x="586.75" y="113.75" font-size="8.6" fill="#6c6c6c" textLength="75.00" lengthAdjust="spacingAndGlyphs">DTM: NW @ 7 kts</text>
<text x="589.75" y="129.50" font-size="8.6" fill="#6c6c6c" textLength="74.25" lengthAdjust="spacingAndGlyphs">US: ESE @ 20 kts</text>
<text x="589.75" y="146.25" font-size="8.6" fill="#6c6c6c" textLength="63.25" lengthAdjust="spacingAndGlyphs">DS: E @ 25 kts</text>
<defs><clipPath id="mpc"><rect x="580.5" y="394.3" width="108.2" height="108.2"/></clipPath><filter id="noise" x="0" y="0" width="100%" height="100%"><feTurbulence type="fractalNoise" baseFrequency="0.35" numOctaves="3" seed="7" result="n"/><feColorMatrix in="n" type="matrix" values="0 0 0 0 0.50  0 0 0 0 0.52  0 0 0 0 0.45  0.7 0.7 0.3 0 -0.55"/><feComposite operator="in" in2="SourceGraphic"/></filter><filter id="noise2" x="0" y="0" width="100%" height="100%"><feTurbulence type="fractalNoise" baseFrequency="0.22" numOctaves="2" seed="11" result="n"/><feColorMatrix in="n" type="matrix" values="0 0 0 0 0.20  0 0 0 0 0.28  0 0 0 0 0.55  0.8 0.8 0 0 -0.62"/><feComposite operator="in" in2="SourceGraphic"/></filter></defs>
<g clip-path="url(#mpc)">
<rect x="580.50" y="394.30" width="108.20" height="108.20" fill="#4b63ab" stroke="none" stroke-width="0" />
<polygon points="658.12,446.50 661.87,438.06 667.50,432.44 676.87,426.81 690.00,425.41 690.00,505.00 658.12,504.00 660.47,490.87 661.41,479.62 660.00,462.75 658.12,453.37" fill="#42579d"/>
<polygon points="658.12,446.50 661.87,438.06 667.50,432.44 676.87,426.81 690.00,425.41 690.00,505.00 658.12,504.00 660.47,490.87 661.41,479.62 660.00,462.75 658.12,453.37" fill="#2c3f80" filter="url(#noise2)" opacity="0.4"/>
<polygon points="690.94,396.06 682.50,401.50 674.06,405.25 665.62,409.00 658.12,412.75 651.56,416.97 645.94,422.12 641.25,427.75 637.97,434.31 636.56,440.87 636.56,444.00 638.44,453.37 640.78,462.75 641.72,470.25 640.31,478.69 636.56,486.19 633.75,491.81 630.00,498.37 630.62,504.94 578.00,506.00 578.00,392.00 692.00,392.00" fill="#adb0a4"/>
<polygon points="690.94,396.06 682.50,401.50 674.06,405.25 665.62,409.00 658.12,412.75 651.56,416.97 645.94,422.12 641.25,427.75 637.97,434.31 636.56,440.87 636.56,444.00 638.44,453.37 640.78,462.75 641.72,470.25 640.31,478.69 636.56,486.19 633.75,491.81 630.00,498.37 630.62,504.94 578.00,506.00 578.00,392.00 692.00,392.00" fill="#8c9082" filter="url(#noise)"/>
<polygon points="686.25,397.75 678.75,400.56 671.25,403.37 665.62,405.72 662.81,405.06 660.94,407.12 658.12,402.62 656.72,405.25 653.44,403.19 654.56,408.06 650.16,409.47 651.09,413.22 648.75,412.28 646.87,416.97 642.19,415.75 643.12,419.78 638.91,422.12 635.62,424.94 637.50,426.81 639.37,425.41 636.56,431.50 633.75,435.25 634.69,440.87 633.75,444.00 635.16,453.37 637.97,462.75 639.37,468.37 641.72,470.25 640.78,462.75 638.44,453.37 636.56,444.00 636.56,440.87 637.97,434.31 641.25,427.75 645.94,422.12 651.56,416.97 658.12,412.75 665.62,409.00 674.06,405.25 682.50,401.50" fill="#2e6a55" opacity="0.85"/>
<polyline points="686.25,397.75 678.75,400.56 671.25,403.37 665.62,405.72 662.81,405.06 660.94,407.12 658.12,402.62 656.72,405.25 653.44,403.19 654.56,408.06 650.16,409.47 651.09,413.22 648.75,412.28 646.87,416.97 642.19,415.75 643.12,419.78 638.91,422.12 635.62,424.94 637.50,426.81 639.37,425.41 636.56,431.50 633.75,435.25 634.69,440.87 633.75,444.00 635.16,453.37 637.97,462.75 639.37,468.37" fill="none" stroke="#16251f" stroke-width="0.5" opacity="0.8"/>
<polyline points="690.94,396.06 682.50,401.50 674.06,405.25 665.62,409.00 658.12,412.75 651.56,416.97 645.94,422.12 641.25,427.75 637.97,434.31 636.56,440.87 636.56,444.00 638.44,453.37 640.78,462.75 641.72,470.25 640.31,478.69 636.56,486.19 633.75,491.81 630.00,498.37 630.62,504.94" fill="none" stroke="#16251f" stroke-width="0.8"/>
<polyline points="635.62,438.06 634.69,444.00 636.56,453.37 639.19,462.75 640.31,469.31" fill="none" stroke="#c9c8ad" stroke-width="0.6" opacity="0.8"/>
<ellipse cx="633.7" cy="420.7" rx="3.0" ry="0.9" fill="#d9dcc6" opacity="0.45"/>
<ellipse cx="632.3" cy="429.2" rx="2.5" ry="0.8" fill="#d9dcc6" opacity="0.4"/>
<ellipse cx="626.9" cy="417.4" rx="1.5" ry="1.2" fill="#cfe0d0" opacity="0.5"/>
<ellipse cx="588.0" cy="449.6" rx="1.6" ry="1.0" fill="#f5f5f1" opacity="0.92" transform="rotate(0 588.0 449.6)"/>
<ellipse cx="592.0" cy="452.6" rx="1.3" ry="1.0" fill="#f5f5f1" opacity="0.92" transform="rotate(0 592.0 452.6)"/>
<ellipse cx="596.9" cy="464.8" rx="2.0" ry="1.4" fill="#f5f5f1" opacity="0.92" transform="rotate(-30 596.9 464.8)"/>
<ellipse cx="631.1" cy="486.0" rx="4.8" ry="1.9" fill="#f5f5f1" opacity="0.92" transform="rotate(-38 631.1 486.0)"/>
<ellipse cx="627.3" cy="488.1" rx="2.0" ry="1.2" fill="#f5f5f1" opacity="0.92" transform="rotate(0 627.3 488.1)"/>
<g fill="none" stroke="#2b2c28" stroke-width="0.55" opacity="0.9">
<polyline points="586.56,394.00 586.56,419.31"/>
<polyline points="580.00,405.25 612.34,405.25"/>
<polyline points="601.09,394.00 601.09,438.06"/>
<polyline points="612.34,405.25 612.34,419.31"/>
<polyline points="586.56,419.31 625.00,419.31"/>
<polyline points="611.41,394.00 618.44,401.97 622.19,398.69 628.75,394.00"/>
<polyline points="618.44,401.97 612.34,405.25"/>
<polyline points="618.44,403.37 624.06,416.50 625.94,419.31"/>
<polyline points="619.37,403.37 625.94,402.91 630.62,409.94 636.25,410.87 640.00,408.06"/>
<polyline points="625.94,402.91 632.50,398.69 640.00,399.62"/>
<polyline points="626.87,395.87 629.69,399.62"/>
<polyline points="625.94,419.31 622.19,423.06 622.19,429.62 619.37,429.62 619.37,438.06"/>
<polyline points="622.19,429.62 628.75,431.50 636.25,431.50"/>
<polyline points="586.56,438.06 621.25,438.06"/>
<polyline points="601.09,436.65 607.19,436.65 610.00,443.69 610.47,450.25"/>
<polyline points="597.34,439.00 597.34,450.25"/>
<polyline points="597.34,450.25 621.25,450.25"/>
<polyline points="621.25,439.00 620.78,454.00"/>
<polyline points="612.81,450.25 611.87,454.00"/>
<polyline points="630.00,400.56 639.37,399.16 644.06,394.00"/>
<polyline points="639.37,399.16 641.25,407.12 630.00,409.47"/>
<polyline points="641.25,407.12 652.97,403.37"/>
<polyline points="645.94,394.00 653.44,403.37"/>
<polyline points="660.94,394.00 661.87,397.75 667.50,394.00"/>
<polyline points="661.87,397.75 658.12,404.31"/>
<polyline points="674.06,394.00 675.94,397.75 682.50,400.56"/>
<polyline points="641.25,407.12 647.81,408.06"/>
<polyline points="630.00,416.50 634.69,412.28 630.00,409.94"/>
<polyline points="597.81,444.00 597.81,450.09 621.25,450.09"/>
<polyline points="610.47,444.00 610.47,450.09"/>
<polyline points="621.25,444.00 621.25,455.25 632.50,455.72"/>
<polyline points="612.81,450.09 607.19,462.28"/>
<polyline points="620.31,456.19 624.06,461.34 632.50,461.34"/>
<polyline points="624.06,461.34 624.06,467.91"/>
</g>
<g fill="none" stroke="#85877d" stroke-width="0.4" opacity="0.8">
<polyline points="615.16,419.78 615.16,438.06"/>
<polyline points="580.00,416.03 586.56,416.03"/>
</g>
<g fill="none" stroke="#0b0b0b" stroke-width="1.3" stroke-linejoin="round">
<polyline points="580.00,429.16 583.28,430.56 584.22,435.25 583.75,438.06 585.62,440.87 585.62,444.00 589.37,447.75 592.19,453.37 594.06,458.06 598.75,459.94 604.37,463.22 610.94,464.62 615.62,467.44 622.19,468.19 630.62,468.84 640.00,471.19"/>
<polyline points="580.00,450.25 580.00,450.56 584.69,453.37 586.56,459.94 591.25,462.75 593.12,467.44 597.81,469.78 606.25,468.84 607.66,472.12 607.66,481.50 609.53,482.44 603.44,488.06 596.87,490.87 591.25,496.50 588.44,498.84 581.87,500.25 581.12,504.94"/>
</g>
<circle cx="634.50" cy="471.50" r="2.1" fill="none" stroke="#000" stroke-width="0.75"/>
<line x1="630.80" y1="471.50" x2="638.20" y2="471.50" stroke="#000" stroke-width="0.75" />
<line x1="634.50" y1="467.80" x2="634.50" y2="475.20" stroke="#000" stroke-width="0.75" />
<rect x="591.70" y="489.90" width="85.20" height="10.80" fill="#f6f6f6" stroke="#8a8a8a" stroke-width="0.5" fill-opacity="0.93" rx="0.6"/>
<text x="593.20" y="497.40" font-size="6.3" fill="#222" font-weight="bold" textLength="82.10" lengthAdjust="spacingAndGlyphs">Valid: 03-05 | 00:00</text>
</g>
<rect x="580.50" y="394.30" width="108.20" height="108.20" fill="none" stroke="#1a1a1a" stroke-width="0.6" />
<rect x="915.50" y="426.50" width="92.20" height="76.00" fill="#fff" stroke="#3a3a3a" stroke-width="0.7" />
<text x="923.00" y="438.30" font-size="7.1" fill="#1a1a1a" font-weight="bold" textLength="12.70" lengthAdjust="spacingAndGlyphs">0-3</text>
<text x="935.90" y="438.50" font-size="5.0" fill="#1a1a1a" font-weight="bold" textLength="8.90" lengthAdjust="spacingAndGlyphs">km</text>
<text x="948.10" y="438.30" font-size="7.1" fill="#1a1a1a" font-weight="bold" textLength="19.60" lengthAdjust="spacingAndGlyphs">SRH,</text>
<text x="977.00" y="438.30" font-size="6.9" fill="#1a1a1a" font-weight="bold" textLength="18.60" lengthAdjust="spacingAndGlyphs">BWD</text>
<text x="923.50" y="450.80" font-size="7.3" fill="#4a6fe6" font-weight="bold" textLength="39.60" lengthAdjust="spacingAndGlyphs">138 m²/s²</text>
<text x="975.50" y="450.80" font-size="7.3" fill="#4a6fe6" font-weight="bold" textLength="21.00" lengthAdjust="spacingAndGlyphs">19 kt</text>
<text x="923.00" y="463.00" font-size="7.1" fill="#1a1a1a" font-weight="bold" textLength="12.70" lengthAdjust="spacingAndGlyphs">0-6</text>
<text x="935.90" y="463.20" font-size="5.0" fill="#1a1a1a" font-weight="bold" textLength="8.90" lengthAdjust="spacingAndGlyphs">km</text>
<text x="948.10" y="463.00" font-size="7.1" fill="#1a1a1a" font-weight="bold" textLength="19.60" lengthAdjust="spacingAndGlyphs">SRH,</text>
<text x="977.00" y="463.00" font-size="6.9" fill="#1a1a1a" font-weight="bold" textLength="18.60" lengthAdjust="spacingAndGlyphs">BWD</text>
<text x="923.50" y="474.60" font-size="7.3" fill="#4a6fe6" font-weight="bold" textLength="39.60" lengthAdjust="spacingAndGlyphs">155 m²/s²</text>
<text x="975.50" y="474.60" font-size="7.3" fill="#4a6fe6" font-weight="bold" textLength="21.00" lengthAdjust="spacingAndGlyphs">27 kt</text>
<text x="928.30" y="487.80" font-size="6.9" fill="#1a1a1a" font-weight="bold" text-anchor="middle">SCP</text>
<text x="950.80" y="487.80" font-size="6.9" fill="#1a1a1a" font-weight="bold" text-anchor="middle">STP</text>
<text x="974.30" y="486.90" font-size="6.9" fill="#1a1a1a" font-weight="bold" text-anchor="middle">EHI</text>
<text x="996.80" y="486.90" font-size="6.9" fill="#1a1a1a" font-weight="bold" text-anchor="middle">EHI</text>
<text x="974.30" y="491.20" font-size="3.3" fill="#1a1a1a" font-weight="bold" text-anchor="middle">0–1km</text>
<text x="996.80" y="491.20" font-size="3.3" fill="#1a1a1a" font-weight="bold" text-anchor="middle">0–3km</text>
<text x="928.30" y="498.30" font-size="7.0" fill="#b5484d" font-weight="bold" text-anchor="middle">0</text>
<text x="950.80" y="498.30" font-size="7.0" fill="#b5484d" font-weight="bold" text-anchor="middle">0</text>
<text x="974.30" y="498.30" font-size="7.0" fill="#ff7f2a" font-weight="bold" text-anchor="middle">0</text>
<text x="996.80" y="498.30" font-size="7.0" fill="#ff7f2a" font-weight="bold" text-anchor="middle">1</text>
</g>
<rect x="580.50" y="41.20" width="427.20" height="461.30" fill="none" stroke="#7a7a7a" stroke-width="0.9" />
<rect x="13.30" y="502.50" width="372.70" height="97.80" fill="#fff" stroke="#7a7a7a" stroke-width="0.9" />
<text x="55.50" y="519.00" font-size="8.8" fill="#111" font-weight="bold" textLength="47.00" lengthAdjust="spacingAndGlyphs">SR-ECAPE</text>
<text x="124.60" y="519.00" font-size="8.8" fill="#111" font-weight="bold" textLength="24.80" lengthAdjust="spacingAndGlyphs">CAPE</text>
<text x="177.00" y="519.00" font-size="8.8" fill="#111" font-weight="bold" textLength="30.90" lengthAdjust="spacingAndGlyphs">6CAPE</text>
<text x="235.90" y="519.00" font-size="8.8" fill="#111" font-weight="bold" textLength="30.90" lengthAdjust="spacingAndGlyphs">3CAPE</text>
<text x="297.80" y="519.00" font-size="8.8" fill="#111" font-weight="bold" textLength="16.00" lengthAdjust="spacingAndGlyphs">CIN</text>
<text x="351.10" y="519.00" font-size="8.8" fill="#111" font-weight="bold" textLength="16.60" lengthAdjust="spacingAndGlyphs">LCL</text>
<text x="19.10" y="535.60" font-size="8.6" fill="#111" font-weight="bold">SB:</text>
<text x="55.50" y="535.60" font-size="8.6" fill="#a82a3a" font-weight="bold">1309 J/kg</text>
<text x="115.20" y="535.60" font-size="8.6" fill="#f4561c" font-weight="bold">1922 J/kg</text>
<text x="174.80" y="535.60" font-size="8.6" fill="#f4561c" font-weight="bold">466 J/kg</text>
<text x="233.60" y="535.60" font-size="8.6" fill="#f4561c" font-weight="bold">16 J/kg</text>
<text x="289.60" y="535.60" font-size="8.6" fill="#f4561c" font-weight="bold">-22 J/kg</text>
<text x="344.90" y="535.60" font-size="8.6" fill="#f4561c" font-weight="bold">766 m</text>
<text x="19.10" y="551.90" font-size="8.6" fill="#111" font-weight="bold">MU:</text>
<text x="55.50" y="551.90" font-size="8.6" fill="#a82a3a" font-weight="bold">1317 J/kg</text>
<text x="115.20" y="551.90" font-size="8.6" fill="#f4561c" font-weight="bold">1926 J/kg</text>
<text x="174.80" y="551.90" font-size="8.6" fill="#f4561c" font-weight="bold">468 J/kg</text>
<text x="233.60" y="551.90" font-size="8.6" fill="#f4561c" font-weight="bold">17 J/kg</text>
<text x="289.60" y="551.90" font-size="8.6" fill="#f4561c" font-weight="bold">-22 J/kg</text>
<text x="344.90" y="551.90" font-size="8.6" fill="#f4561c" font-weight="bold">762 m</text>
<text x="19.10" y="567.90" font-size="8.6" fill="#111" font-weight="bold">ML:</text>
<text x="55.50" y="567.90" font-size="8.6" fill="#a82a3a" font-weight="bold">979 J/kg</text>
<text x="115.20" y="567.90" font-size="8.6" fill="#f4561c" font-weight="bold">1665 J/kg</text>
<text x="174.80" y="567.90" font-size="8.6" fill="#f4561c" font-weight="bold">391 J/kg</text>
<text x="233.60" y="567.90" font-size="8.6" fill="#f4561c" font-weight="bold">4 J/kg</text>
<text x="289.60" y="567.90" font-size="8.6" fill="#f4561c" font-weight="bold">-50 J/kg</text>
<text x="344.90" y="567.90" font-size="8.6" fill="#f4561c" font-weight="bold">685 m</text>
<text x="19.10" y="582.30" font-size="8.6" fill="#111" font-weight="bold">DCAPE:</text>
<text x="60.20" y="582.30" font-size="8.6" fill="#8db3f2" font-weight="bold">932 J/kg</text>
<text x="19.10" y="593.00" font-size="8.6" fill="#111" font-weight="bold">DCIN:</text>
<text x="60.20" y="593.00" font-size="8.6" fill="#8db3f2" font-weight="bold">0 J/kg</text>
<text x="120.50" y="590.10" font-size="8.6" fill="#111" font-weight="bold" textLength="50.30" lengthAdjust="spacingAndGlyphs">MUNCAPE:</text>
<text x="173.40" y="590.10" font-size="8.6" fill="#c9767a" font-weight="bold" textLength="14.50" lengthAdjust="spacingAndGlyphs">0.2</text>
<text x="207.20" y="590.10" font-size="8.8" fill="#111" font-weight="bold">Γ</text>
<text x="213.40" y="591.00" font-size="5.6" fill="#111" font-weight="bold" textLength="12.10" lengthAdjust="spacingAndGlyphs" style="font-family:'DejaVu Serif','Liberation Serif',serif">0–3</text>
<text x="226.60" y="590.10" font-size="8.8" fill="#111" font-weight="bold">:</text>
<text x="234.50" y="590.10" font-size="8.8" fill="#8b5128" font-weight="bold" textLength="43.80" lengthAdjust="spacingAndGlyphs">6 Δ°C/km</text>
<text x="290.00" y="590.10" font-size="8.8" fill="#111" font-weight="bold">Γ</text>
<text x="296.40" y="591.00" font-size="5.6" fill="#111" font-weight="bold" textLength="11.80" lengthAdjust="spacingAndGlyphs" style="font-family:'DejaVu Serif','Liberation Serif',serif">3–6</text>
<text x="309.00" y="590.10" font-size="8.8" fill="#111" font-weight="bold">:</text>
<text x="319.90" y="590.10" font-size="8.8" fill="#8b5128" font-weight="bold" textLength="43.90" lengthAdjust="spacingAndGlyphs">7 Δ°C/km</text>
<text x="56.25" y="613.90" font-size="10.7" fill="#a3bef3" font-weight="bold" textLength="310.50" lengthAdjust="spacingAndGlyphs">SOUNDERPY VERTICAL PROFILE ANALYSIS TOOL</text>
<text x="95.10" y="625.20" font-size="8.5" fill="#a3bef3" font-weight="bold" textLength="233.00" lengthAdjust="spacingAndGlyphs">KYLE J GILLETT | sounderpysoundings.anvil.app</text>
<circle cx="32.2" cy="616.3" r="13.4" fill="#e9eef4" stroke="#8a9098" stroke-width="1.0"/>
<path d="M24,612 q4,-3 8,0 t8,1" fill="none" stroke="#c9d6e4" stroke-width="1.4"/>
<text x="32.20" y="615.60" font-size="5.3" fill="#111" font-weight="bold" text-anchor="middle" textLength="24.50" lengthAdjust="spacingAndGlyphs">SOUNDER</text>
<text x="33.40" y="622.60" font-size="7.6" fill="#3aa04a">P</text>
<text x="38.20" y="622.60" font-size="7.6" fill="#e02a2a">Y</text>
<text x="32.20" y="627.00" font-size="2.2" fill="#555" text-anchor="middle">ANALYSIS</text>
<rect x="386.00" y="502.50" width="137.80" height="124.80" fill="#fff" stroke="#7a7a7a" stroke-width="0.9" />
<text x="434.70" y="519.00" font-size="8.8" fill="#111" font-weight="bold" textLength="30.20" lengthAdjust="spacingAndGlyphs">RH(%)</text>
<text x="490.00" y="519.00" font-size="8.8" fill="#111" font-weight="bold" text-anchor="middle">ω</text>
<text x="395.3" y="535.4" font-size="8.9" font-weight="bold" fill="#111">0-.5<tspan font-size="5.5">km</tspan>:</text>
<line x1="395.60" y1="526.20" x2="409.40" y2="526.20" stroke="#111" stroke-width="0.7" />
<text x="436.50" y="535.40" font-size="8.75" fill="#2a8a2a" font-weight="bold">79 %</text>
<text x="468.60" y="535.40" font-size="8.75" fill="#2a8a2a" font-weight="bold">14.7 g/kg</text>
<text x="395.3" y="551.1" font-size="8.9" font-weight="bold" fill="#111">0-1<tspan font-size="5.5">km</tspan>:</text>
<line x1="395.60" y1="541.90" x2="409.00" y2="541.90" stroke="#111" stroke-width="0.7" />
<text x="436.50" y="551.10" font-size="8.75" fill="#3b963b" font-weight="bold">83 %</text>
<text x="468.60" y="551.10" font-size="8.75" fill="#3b963b" font-weight="bold">13.9 g/kg</text>
<text x="395.3" y="567.6" font-size="8.9" font-weight="bold" fill="#111">1-3<tspan font-size="5.5">km</tspan>:</text>
<line x1="395.60" y1="558.40" x2="409.00" y2="558.40" stroke="#111" stroke-width="0.7" />
<text x="436.50" y="567.60" font-size="8.75" fill="#55a655" font-weight="bold">40 %</text>
<text x="468.60" y="567.60" font-size="8.75" fill="#55a655" font-weight="bold">5.4 g/kg</text>
<text x="395.3" y="583.5" font-size="8.9" font-weight="bold" fill="#111">3-6<tspan font-size="5.5">km</tspan>:</text>
<line x1="395.60" y1="574.30" x2="409.00" y2="574.30" stroke="#111" stroke-width="0.7" />
<text x="436.50" y="583.50" font-size="8.75" fill="#6db56d" font-weight="bold">21 %</text>
<text x="468.60" y="583.50" font-size="8.75" fill="#6db56d" font-weight="bold">1.3 g/kg</text>
<text x="395.3" y="600.0" font-size="8.9" font-weight="bold" fill="#111">6-9<tspan font-size="5.5">km</tspan>:</text>
<line x1="395.60" y1="590.80" x2="409.00" y2="590.80" stroke="#111" stroke-width="0.7" />
<text x="436.50" y="600.00" font-size="8.75" fill="#84c184" font-weight="bold">18 %</text>
<text x="468.60" y="600.00" font-size="8.75" fill="#84c184" font-weight="bold">0.3 g/kg</text>
<text x="395.80" y="612.40" font-size="6.0" fill="#111" font-weight="bold" textLength="23.40" lengthAdjust="spacingAndGlyphs">PWAT:</text>
<text x="427.70" y="612.40" font-size="6.0" fill="#1f7a1f" font-weight="bold" textLength="26.50" lengthAdjust="spacingAndGlyphs">1.16 in</text>
<text x="465.80" y="612.40" font-size="6.0" fill="#111" font-weight="bold" textLength="14.70" lengthAdjust="spacingAndGlyphs">WB:</text>
<text x="491.20" y="612.40" font-size="6.0" fill="#1f7a1f" font-weight="bold" textLength="19.70" lengthAdjust="spacingAndGlyphs">21 °C</text>
<text x="395.80" y="623.40" font-size="6.0" fill="#111" font-weight="bold" textLength="16.80" lengthAdjust="spacingAndGlyphs">FRZ:</text>
<text x="427.70" y="623.40" font-size="6.0" fill="#6f9cf0" font-weight="bold" textLength="26.50" lengthAdjust="spacingAndGlyphs">4300m</text>
<text x="463.20" y="623.40" font-size="6.0" fill="#111" font-weight="bold" textLength="19.60" lengthAdjust="spacingAndGlyphs">WB0:</text>
<text x="488.80" y="623.40" font-size="6.0" fill="#6f9cf0" font-weight="bold" textLength="25.80" lengthAdjust="spacingAndGlyphs">3000m</text>
<rect x="523.80" y="502.50" width="242.90" height="124.80" fill="#fff" stroke="#7a7a7a" stroke-width="0.9" />
<text x="574.20" y="519.20" font-size="8.6" fill="#2a2a2a" font-weight="bold" textLength="22.90" lengthAdjust="spacingAndGlyphs">BWD</text>
<text x="618.40" y="519.20" font-size="8.6" fill="#2a2a2a" font-weight="bold" textLength="20.00" lengthAdjust="spacingAndGlyphs">SRH</text>
<text x="659.90" y="519.20" font-size="8.6" fill="#2a2a2a" font-weight="bold" textLength="22.00" lengthAdjust="spacingAndGlyphs">SRW</text>
<text x="691.60" y="519.20" font-size="8.6" fill="#2a2a2a" font-weight="bold" textLength="29.60" lengthAdjust="spacingAndGlyphs">SWζ%</text>
<text x="733.40" y="519.20" font-size="8.6" fill="#2a2a2a" font-weight="bold" textLength="20.50" lengthAdjust="spacingAndGlyphs">SWζ</text>
<text x="532.2" y="535.6" font-size="8.6" font-weight="bold" fill="#2a2a2a">0-.5<tspan font-size="5.4">km</tspan>:</text>
<text x="571.80" y="535.60" font-size="8.6" fill="#6495ed" font-weight="bold">7 kt</text>
<text x="605.40" y="535.60" font-size="8.6" fill="#6495ed" font-weight="bold" textLength="40.30" lengthAdjust="spacingAndGlyphs">15 m²/s²</text>
<text x="659.90" y="535.60" font-size="8.6" fill="#6495ed" font-weight="bold" textLength="24.90" lengthAdjust="spacingAndGlyphs">18 kt</text>
<text x="704.30" y="535.60" font-size="8.6" fill="#6495ed" font-weight="bold" text-anchor="middle">37</text>
<text x="730.50" y="535.60" font-size="8.6" fill="#6495ed" font-weight="bold" textLength="26.80" lengthAdjust="spacingAndGlyphs">0.005</text>
<text x="532.2" y="551.9" font-size="8.6" font-weight="bold" fill="#2a2a2a">0-1<tspan font-size="5.4">km</tspan>:</text>
<text x="571.80" y="551.90" font-size="8.6" fill="#6495ed" font-weight="bold">14 kt</text>
<text x="605.40" y="551.90" font-size="8.6" fill="#6495ed" font-weight="bold" textLength="40.30" lengthAdjust="spacingAndGlyphs">46 m²/s²</text>
<text x="659.90" y="551.90" font-size="8.6" fill="#6495ed" font-weight="bold" textLength="24.90" lengthAdjust="spacingAndGlyphs">21 kt</text>
<text x="704.30" y="551.90" font-size="8.6" fill="#6495ed" font-weight="bold" text-anchor="middle">47</text>
<text x="730.50" y="551.90" font-size="8.6" fill="#6495ed" font-weight="bold" textLength="26.80" lengthAdjust="spacingAndGlyphs">0.005</text>
<text x="532.2" y="568.0" font-size="8.6" font-weight="bold" fill="#2a2a2a">1-3<tspan font-size="5.4">km</tspan>:</text>
<text x="571.80" y="568.00" font-size="8.6" fill="#6495ed" font-weight="bold">21 kt</text>
<text x="605.40" y="568.00" font-size="8.6" fill="#6495ed" font-weight="bold" textLength="40.30" lengthAdjust="spacingAndGlyphs">91 m²/s²</text>
<text x="659.90" y="568.00" font-size="8.6" fill="#6495ed" font-weight="bold" textLength="24.90" lengthAdjust="spacingAndGlyphs">18 kt</text>
<text x="704.30" y="568.00" font-size="8.6" fill="#6495ed" font-weight="bold" text-anchor="middle">68</text>
<text x="730.50" y="568.00" font-size="8.6" fill="#6495ed" font-weight="bold" textLength="26.80" lengthAdjust="spacingAndGlyphs">0.007</text>
<text x="532.2" y="584.4" font-size="8.6" font-weight="bold" fill="#2a2a2a">3-6<tspan font-size="5.4">km</tspan>:</text>
<text x="571.80" y="584.40" font-size="8.6" fill="#6495ed" font-weight="bold">9 kt</text>
<text x="605.40" y="584.40" font-size="8.6" fill="#6495ed" font-weight="bold" textLength="40.30" lengthAdjust="spacingAndGlyphs">17 m²/s²</text>
<text x="659.90" y="584.40" font-size="8.6" fill="#6495ed" font-weight="bold" textLength="24.90" lengthAdjust="spacingAndGlyphs">12 kt</text>
<text x="704.30" y="584.40" font-size="8.6" fill="#6495ed" font-weight="bold" text-anchor="middle">68</text>
<text x="730.50" y="584.40" font-size="8.6" fill="#6495ed" font-weight="bold" textLength="26.80" lengthAdjust="spacingAndGlyphs">0.004</text>
<text x="532.2" y="600.5" font-size="8.6" font-weight="bold" fill="#2a2a2a">6-9<tspan font-size="5.4">km</tspan>:</text>
<text x="571.80" y="600.50" font-size="8.6" fill="#6495ed" font-weight="bold">14 kt</text>
<text x="605.40" y="600.50" font-size="8.6" fill="#6495ed" font-weight="bold" textLength="40.30" lengthAdjust="spacingAndGlyphs">39 m²/s²</text>
<text x="659.90" y="600.50" font-size="8.6" fill="#6495ed" font-weight="bold" textLength="24.90" lengthAdjust="spacingAndGlyphs">21 kt</text>
<text x="704.30" y="600.50" font-size="8.6" fill="#6495ed" font-weight="bold" text-anchor="middle">72</text>
<text x="730.50" y="600.50" font-size="8.6" fill="#6495ed" font-weight="bold" textLength="26.80" lengthAdjust="spacingAndGlyphs">0.005</text>
<text x="532.20" y="616.90" font-size="8.6" fill="#2a2a2a" font-weight="bold">EIL:</text>
<text x="571.80" y="616.90" font-size="8.6" fill="#6495ed" font-weight="bold">10 kt</text>
<text x="605.40" y="616.90" font-size="8.6" fill="#6495ed" font-weight="bold" textLength="40.30" lengthAdjust="spacingAndGlyphs">29 m²/s²</text>
<text x="659.90" y="616.90" font-size="8.6" fill="#6495ed" font-weight="bold" textLength="24.90" lengthAdjust="spacingAndGlyphs">19 kt</text>
<text x="704.30" y="616.90" font-size="8.6" fill="#6495ed" font-weight="bold" text-anchor="middle">41</text>
<text x="730.50" y="616.90" font-size="8.6" fill="#6495ed" font-weight="bold" textLength="26.80" lengthAdjust="spacingAndGlyphs">0.005</text>
<defs><clipPath id="ppc"><rect x="767.2" y="502.5" width="240.30" height="124.50"/></clipPath></defs>
<g clip-path="url(#ppc)">
<rect x="767.20" y="502.50" width="240.30" height="124.50" fill="#fff" stroke="none" stroke-width="0" />
<polygon points="767.20,502.00 814.90,502.00 814.90,505.50 811.60,509.60 810.50,514.80 808.30,519.70 796.80,520.80 767.20,523.30" fill="#dfe7fb"/>
<polygon points="767.20,537.80 781.00,543.75 774.10,548.10 779.30,556.70 824.20,560.70 825.20,563.40 823.10,569.30 825.20,577.00 807.70,581.30 796.30,586.20 796.30,586.20 789.70,589.75 800.10,594.50 820.90,598.30 767.20,603.30" fill="#dfe7fb"/>
<polygon points="767.20,620.50 819.80,623.20 804.50,627.50 767.20,627.50" fill="#dfe7fb"/>
<polygon points="887.40,502.00 888.60,502.00 890.00,507.10 894.90,515.30 901.00,526.25 907.00,539.40 911.30,551.40 914.40,560.70 912.70,564.50 914.60,570.90 915.20,577.50 913.30,583.50 911.90,586.50 911.90,586.50 907.50,594.50 906.40,602.10 890.00,623.20 897.10,627.50 887.40,627.50" fill="#dfe7fb"/>
<polygon points="827.20,502.00 834.90,502.00 840.40,509.80 841.00,514.20 840.40,518.00 834.90,523.50 833.30,530.60 834.40,536.10 833.80,543.75 834.90,548.10 832.75,560.20 840.20,564.90 838.80,573.10 834.90,580.80 837.10,586.25 836.60,591.70 834.10,598.30 834.40,602.10 838.80,607.00 838.20,616.90 839.30,621.80 841.50,623.40 841.50,627.50 827.20,627.50" fill="#808080" fill-opacity="0.22"/>
<polygon points="827.20,502.00 833.80,502.00 839.30,509.80 840.40,514.20 839.30,518.00 831.10,523.50 830.00,532.80 830.00,543.75 830.60,552.50 831.70,560.20 839.90,565.10 838.80,570.00 838.50,573.10 834.60,580.80 833.30,586.25 832.75,598.30 828.40,605.90 827.80,619.60 840.40,622.90 839.30,627.50 827.20,627.50" fill="#f5a623" fill-opacity="0.28"/>
<rect x="767.20" y="595.10" width="240.30" height="31.90" fill="#add8e6" stroke="none" stroke-width="0" fill-opacity="0.2"/>
<polygon points="977.40,552.50 947.70,565.30 947.70,580.20 976.80,586.00 947.70,589.00 947.70,591.70 969.20,598.30 971.30,607.00 973.00,616.90 975.70,627.50 977.40,627.50" fill="#7fbcbd"/>
<polygon points="977.40,552.50 980.60,560.70 979.00,563.00 977.90,566.00 977.70,590.60 987.75,595.00 991.60,598.80 992.70,607.00 993.80,616.90 996.50,627.50 977.40,627.50" fill="#ff9b40"/>
<line x1="767.20" y1="523.40" x2="1007.50" y2="523.40" stroke="#bcbcbc" stroke-width="0.7" />
<line x1="767.20" y1="544.30" x2="1007.50" y2="544.30" stroke="#bcbcbc" stroke-width="0.7" />
<line x1="767.20" y1="565.30" x2="1007.50" y2="565.30" stroke="#bcbcbc" stroke-width="0.7" />
<line x1="767.20" y1="586.20" x2="1007.50" y2="586.20" stroke="#bcbcbc" stroke-width="0.7" />
<line x1="767.20" y1="607.00" x2="1007.50" y2="607.00" stroke="#bcbcbc" stroke-width="0.7" />
<polyline points="814.90,502.00 814.90,505.50 811.60,509.60 810.50,514.80 808.30,519.70 796.80,520.80 767.20,523.30" fill="none" stroke="#ff1a1a" stroke-width="1.7" stroke-linejoin="round"/>
<polyline points="767.20,537.80 781.00,543.75 774.10,548.10 779.30,556.70 824.20,560.70 825.20,563.40 823.10,569.30 825.20,577.00 807.70,581.30 796.30,586.20" fill="none" stroke="#ff1a1a" stroke-width="1.7" stroke-linejoin="round"/>
<polyline points="796.30,586.20 789.70,589.75 800.10,594.50 820.90,598.30 767.20,603.30" fill="none" stroke="#800090" stroke-width="1.7" stroke-linejoin="round"/>
<polyline points="767.20,620.50 819.80,623.20 804.50,627.50" fill="none" stroke="#800090" stroke-width="1.7" stroke-linejoin="round"/>
<polyline points="834.90,502.00 840.40,509.80 841.00,514.20 840.40,518.00 834.90,523.50 833.30,530.60 834.40,536.10 833.80,543.75 834.90,548.10 832.75,560.20 840.20,564.90 838.80,573.10 834.90,580.80 837.10,586.25 836.60,591.70 834.10,598.30 834.40,602.10 838.80,607.00 838.20,616.90 839.30,621.80 841.50,623.40 841.50,627.50" fill="none" stroke="#7a7a7a" stroke-width="1.8" stroke-linejoin="round"/>
<polyline points="833.80,502.00 839.30,509.80 840.40,514.20 839.30,518.00 831.10,523.50 830.00,532.80 830.00,543.75 830.60,552.50 831.70,560.20 839.90,565.10 838.80,570.00 838.50,573.10 834.60,580.80 833.30,586.25 832.75,598.30 828.40,605.90 827.80,619.60 840.40,622.90 839.30,627.50" fill="none" stroke="#f5a21a" stroke-width="1.5" stroke-linejoin="round" opacity="0.8"/>
<polyline points="888.60,502.00 890.00,507.10 894.90,515.30 901.00,526.25 907.00,539.40 911.30,551.40 914.40,560.70 912.70,564.50 914.60,570.90 915.20,577.50 913.30,583.50 911.90,586.50" fill="none" stroke="#ff1a1a" stroke-width="1.7" stroke-linejoin="round"/>
<polyline points="911.90,586.50 907.50,594.50 906.40,602.10 890.00,623.20 897.10,627.50" fill="none" stroke="#800090" stroke-width="1.7" stroke-linejoin="round"/>
<line x1="977.40" y1="502.50" x2="977.40" y2="627.00" stroke="#6ea2ee" stroke-width="0.7" stroke-dasharray="0.8 1"/>
</g>
<rect x="767.20" y="502.50" width="60.00" height="124.50" fill="none" stroke="#6f6f6f" stroke-width="0.9" />
<rect x="827.20" y="502.50" width="60.20" height="124.50" fill="none" stroke="#6f6f6f" stroke-width="0.9" />
<rect x="887.40" y="502.50" width="60.30" height="124.50" fill="none" stroke="#6f6f6f" stroke-width="0.9" />
<rect x="947.70" y="502.50" width="59.80" height="124.50" fill="none" stroke="#6f6f6f" stroke-width="0.9" />
<line x1="776.80" y1="627.00" x2="776.80" y2="625.50" stroke="#555" stroke-width="0.5" />
<text x="776.80" y="625.00" font-size="5.4" fill="#666666" text-anchor="middle" font-style="italic">50</text>
<line x1="795.50" y1="627.00" x2="795.50" y2="625.50" stroke="#555" stroke-width="0.5" />
<text x="795.50" y="625.00" font-size="5.4" fill="#666666" text-anchor="middle" font-style="italic">70</text>
<line x1="815.00" y1="627.00" x2="815.00" y2="625.50" stroke="#555" stroke-width="0.5" />
<text x="815.00" y="625.00" font-size="5.4" fill="#666666" text-anchor="middle" font-style="italic">90</text>
<line x1="837.10" y1="627.00" x2="837.10" y2="625.50" stroke="#555" stroke-width="0.5" />
<text x="837.10" y="625.00" font-size="5.4" fill="#666666" text-anchor="middle" font-style="italic">.01</text>
<line x1="857.40" y1="627.00" x2="857.40" y2="625.50" stroke="#555" stroke-width="0.5" />
<text x="857.40" y="625.00" font-size="5.4" fill="#666666" text-anchor="middle" font-style="italic">.03</text>
<line x1="877.60" y1="627.00" x2="877.60" y2="625.50" stroke="#555" stroke-width="0.5" />
<text x="877.60" y="625.00" font-size="5.4" fill="#666666" text-anchor="middle" font-style="italic">.05</text>
<line x1="902.30" y1="627.00" x2="902.30" y2="625.50" stroke="#555" stroke-width="0.5" />
<text x="902.30" y="625.20" font-size="5.4" fill="#666666" text-anchor="middle" font-style="italic">20</text>
<line x1="917.40" y1="627.00" x2="917.40" y2="625.50" stroke="#555" stroke-width="0.5" />
<text x="917.40" y="625.20" font-size="5.4" fill="#666666" text-anchor="middle" font-style="italic">30</text>
<line x1="932.70" y1="627.00" x2="932.70" y2="625.50" stroke="#555" stroke-width="0.5" />
<text x="932.70" y="625.20" font-size="5.4" fill="#666666" text-anchor="middle" font-style="italic">40</text>
<line x1="957.50" y1="627.00" x2="957.50" y2="625.50" stroke="#555" stroke-width="0.5" />
<text font-size="5.5" fill="#666666" text-anchor="middle" transform="translate(957.20,621.6) rotate(-45)">-200</text>
<line x1="967.30" y1="627.00" x2="967.30" y2="625.50" stroke="#555" stroke-width="0.5" />
<text font-size="5.5" fill="#666666" text-anchor="middle" transform="translate(967.00,621.6) rotate(-45)">-100</text>
<line x1="977.40" y1="627.00" x2="977.40" y2="625.50" stroke="#555" stroke-width="0.5" />
<text font-size="5.5" fill="#666666" text-anchor="middle" transform="translate(977.10,621.6) rotate(-45)">0</text>
<line x1="987.40" y1="627.00" x2="987.40" y2="625.50" stroke="#555" stroke-width="0.5" />
<text font-size="5.5" fill="#666666" text-anchor="middle" transform="translate(987.10,621.6) rotate(-45)">1k</text>
<line x1="997.40" y1="627.00" x2="997.40" y2="625.50" stroke="#555" stroke-width="0.5" />
<text font-size="5.5" fill="#666666" text-anchor="middle" transform="translate(997.10,621.6) rotate(-45)">2k</text>
<text x="774.00" y="543.60" font-size="5.8" fill="#111" font-weight="bold">2 km</text>
<text x="774.00" y="564.90" font-size="5.8" fill="#111" font-weight="bold">1.5 km</text>
<text x="774.00" y="585.70" font-size="5.8" fill="#111" font-weight="bold">1 km</text>
<text x="774.00" y="606.80" font-size="5.8" fill="#111" font-weight="bold">.5 km</text>
<text x="947.20" y="596.00" font-size="5.0" fill="#111" font-weight="bold" text-anchor="end" textLength="14.40" lengthAdjust="spacingAndGlyphs">-LCL-</text>
<text x="797.50" y="512.60" font-size="5.6" fill="#111" font-weight="bold" text-anchor="middle" textLength="52.80" lengthAdjust="spacingAndGlyphs">Streamwiseness</text>
<text x="798.40" y="519.10" font-size="5.6" fill="#111" font-weight="bold" text-anchor="middle" textLength="25.10" lengthAdjust="spacingAndGlyphs">of ζ (%)</text>
<text x="857.40" y="515.30" font-size="6.45" fill="#111" font-weight="bold" text-anchor="middle">Total ζ &amp;</text>
<text x="857.40" y="522.60" font-size="6.45" fill="#111" font-weight="bold" text-anchor="middle" textLength="52.50" lengthAdjust="spacingAndGlyphs">Streamwise ζ</text>
<text x="857.40" y="529.75" font-size="6.45" fill="#111" font-weight="bold" text-anchor="middle">(/sec)</text>
<text x="917.00" y="517.30" font-size="6.45" fill="#111" font-weight="bold" text-anchor="middle" textLength="57.60" lengthAdjust="spacingAndGlyphs">Storm Relative</text>
<text x="916.80" y="524.30" font-size="6.45" fill="#111" font-weight="bold" text-anchor="middle" textLength="40.40" lengthAdjust="spacingAndGlyphs">Wind (kts)</text>
<text x="977.90" y="515.30" font-size="6.45" fill="#111" font-weight="bold" text-anchor="middle">Stepwise</text>
<text x="977.90" y="522.60" font-size="6.45" fill="#111" font-weight="bold" text-anchor="middle">CIN &amp; CAPE</text>
<text x="977.90" y="529.75" font-size="6.45" fill="#111" font-weight="bold" text-anchor="middle">(J/kg)</text>
<g clip-path="url(#skc)">
<line x1="519.50" y1="63.90" x2="519.50" y2="495.10" stroke="#6e6e6e" stroke-width="0.7" />
</g>
<path d="M519.50,89.20L503.79,79.24M503.79,79.24L505.81,71.71M505.75,80.49L507.77,72.96M519.50,104.00L501.10,106.73M501.10,106.73L497.71,99.72M503.40,106.39L500.01,99.37M519.50,120.10L501.17,116.92M501.17,116.92L500.16,109.19M503.46,117.32L502.45,109.59M505.76,117.71L504.74,109.99M519.50,128.00L500.97,126.43M500.97,126.43L499.28,118.82M503.28,126.63L501.59,119.02M505.60,126.82L503.91,119.21M507.92,127.02L507.07,123.21M519.50,149.40L501.51,154.13M501.51,154.13L497.37,147.52M503.76,153.54L499.62,146.93M506.01,152.95L501.87,146.34M508.26,152.36L504.12,145.75M519.50,165.80L500.90,165.60M500.90,165.60L498.66,158.14M503.23,165.63L500.98,158.16M505.55,165.65L503.31,158.19M507.88,165.68L505.63,158.21M519.50,175.60L501.15,172.56M501.15,172.56L500.07,164.84M503.44,172.94L502.37,165.22M505.74,173.32L504.66,165.60M508.03,173.70L506.95,165.98M510.33,174.08L509.79,170.22M519.50,199.00L501.15,195.96M501.15,195.96L500.07,188.24M503.44,196.34L502.37,188.62M505.74,196.72L504.66,189.00M508.03,197.10L507.49,193.24M519.50,205.30L501.17,202.16M501.17,202.16L500.13,194.43M503.46,202.55L502.42,194.83M505.75,202.95L504.71,195.22M508.04,203.34L507.52,199.47M519.50,216.60L501.01,218.58M501.01,218.58L497.90,211.43M503.32,218.33L500.21,211.18M505.63,218.08L502.53,210.93M519.50,232.70L500.96,234.19M500.96,234.19L498.05,226.96M503.28,234.00L500.36,226.77M505.59,233.82L502.68,226.59M519.50,242.80L500.97,244.39M500.97,244.39L498.02,237.17M503.28,244.19L500.33,236.97M505.60,243.99L502.65,236.77M519.50,256.40L500.94,257.69M500.94,257.69L498.11,250.43M503.26,257.53L500.43,250.27M505.58,257.37L502.75,250.11M519.50,270.70L500.91,271.31M500.91,271.31L498.34,263.95M503.23,271.23L500.67,263.87M505.56,271.16L504.27,267.48M519.50,287.00L501.76,292.58M501.76,292.58L497.31,286.18M503.97,291.88L499.53,285.48M519.50,298.70L502.08,305.21M502.08,305.21L497.29,299.05M504.25,304.40L501.86,301.32M519.50,313.00L503.56,322.58M503.56,322.58L497.73,317.41M505.55,321.39L502.64,318.80M519.50,327.00L505.65,339.42M505.65,339.42L498.95,335.43M507.38,337.86L504.03,335.87M519.50,345.00L502.38,352.26M502.38,352.26L497.33,346.32M519.50,353.00L501.90,359.01M501.90,359.01L497.29,352.72M519.50,369.20L503.56,378.78M503.56,378.78L497.73,373.61M519.50,381.70L502.79,389.86M502.79,389.86L497.43,384.19M519.50,396.10L503.84,406.14M506.78,404.25L503.79,401.75M519.50,405.20L521.62,423.68M521.22,420.21L517.66,421.79M519.50,422.50L509.21,437.99M509.21,437.99L501.72,435.81M519.50,437.10L523.65,455.23M523.65,455.23L516.92,459.16M523.13,452.96L516.40,456.89M519.50,449.90L520.51,468.47M520.51,468.47L513.21,471.20M520.39,466.15L513.09,468.88M519.50,463.50L521.55,481.99M521.55,481.99L514.42,485.12M521.30,479.68L514.16,482.81M521.04,477.36L517.47,478.93M519.50,479.50L528.76,495.63M528.76,495.63L523.47,501.35M527.60,493.61L522.31,499.33M519.50,495.10L531.58,509.24M531.58,509.24L527.43,515.84" fill="none" stroke="#111" stroke-width="0.75" stroke-linejoin="miter"/>
<g fill="#000">
<circle cx="519.5" cy="89.20" r="1.15"/>
<circle cx="519.5" cy="104.00" r="1.15"/>
<circle cx="519.5" cy="120.10" r="1.15"/>
<circle cx="519.5" cy="128.00" r="1.15"/>
<circle cx="519.5" cy="149.40" r="1.15"/>
<circle cx="519.5" cy="165.80" r="1.15"/>
<circle cx="519.5" cy="175.60" r="1.15"/>
<circle cx="519.5" cy="199.00" r="1.15"/>
<circle cx="519.5" cy="205.30" r="1.15"/>
<circle cx="519.5" cy="216.60" r="1.15"/>
<circle cx="519.5" cy="232.70" r="1.15"/>
<circle cx="519.5" cy="242.80" r="1.15"/>
<circle cx="519.5" cy="256.40" r="1.15"/>
<circle cx="519.5" cy="270.70" r="1.15"/>
<circle cx="519.5" cy="287.00" r="1.15"/>
<circle cx="519.5" cy="298.70" r="1.15"/>
<circle cx="519.5" cy="313.00" r="1.15"/>
<circle cx="519.5" cy="327.00" r="1.15"/>
<circle cx="519.5" cy="345.00" r="1.15"/>
<circle cx="519.5" cy="353.00" r="1.15"/>
<circle cx="519.5" cy="369.20" r="1.15"/>
<circle cx="519.5" cy="381.70" r="1.15"/>
<circle cx="519.5" cy="396.10" r="1.15"/>
<circle cx="519.5" cy="405.20" r="1.15"/>
<circle cx="519.5" cy="422.50" r="1.15"/>
<circle cx="519.5" cy="437.10" r="1.15"/>
<circle cx="519.5" cy="449.90" r="1.15"/>
<circle cx="519.5" cy="463.50" r="1.15"/>
<circle cx="519.5" cy="479.50" r="1.15"/>
<circle cx="519.5" cy="495.10" r="1.15"/>
</g>
<rect x="543.50" y="41.20" width="37.00" height="461.30" fill="#fff" stroke="none" stroke-width="0" />
<line x1="543.50" y1="177.00" x2="580.50" y2="177.00" stroke="#bdbdbd" stroke-width="0.8" />
<line x1="543.50" y1="256.55" x2="580.50" y2="256.55" stroke="#bdbdbd" stroke-width="0.8" />
<line x1="543.50" y1="313.00" x2="580.50" y2="313.00" stroke="#bdbdbd" stroke-width="0.8" />
<line x1="543.50" y1="356.78" x2="580.50" y2="356.78" stroke="#bdbdbd" stroke-width="0.8" />
<line x1="543.50" y1="392.55" x2="580.50" y2="392.55" stroke="#bdbdbd" stroke-width="0.8" />
<line x1="543.50" y1="422.79" x2="580.50" y2="422.79" stroke="#bdbdbd" stroke-width="0.8" />
<line x1="543.50" y1="448.99" x2="580.50" y2="448.99" stroke="#bdbdbd" stroke-width="0.8" />
<line x1="543.50" y1="472.10" x2="580.50" y2="472.10" stroke="#bdbdbd" stroke-width="0.8" />
<line x1="543.50" y1="492.77" x2="580.50" y2="492.77" stroke="#bdbdbd" stroke-width="0.8" />
<rect x="558.75" y="41.20" width="2.10" height="190.00" fill="#f7a3a3" stroke="none" stroke-width="0" />
<rect x="558.75" y="231.00" width="2.60" height="61.50" fill="#f7a3a3" stroke="none" stroke-width="0" />
<rect x="558.75" y="412.00" width="3.80" height="27.50" fill="#faabab" stroke="none" stroke-width="0" />
<rect x="558.75" y="439.50" width="7.00" height="24.30" fill="#faabab" stroke="none" stroke-width="0" />
<rect x="558.75" y="463.80" width="5.00" height="22.00" fill="#faabab" stroke="none" stroke-width="0" />
<rect x="558.25" y="381.00" width="0.90" height="31.00" fill="#faabab" stroke="none" stroke-width="0" />
<line x1="558.75" y1="41.20" x2="558.75" y2="502.50" stroke="#444" stroke-width="0.6" stroke-dasharray="1.6 1"/>
<text x="559.40" y="79.50" font-size="5.3" fill="#111" font-weight="bold">0.6</text>
<text x="559.40" y="196.60" font-size="5.3" fill="#111" font-weight="bold">0.6</text>
<text x="559.40" y="270.60" font-size="5.3" fill="#111" font-weight="bold">0.7</text>
<text x="559.40" y="323.40" font-size="5.3" fill="#111" font-weight="bold">0.1</text>
<text x="544.70" y="365.20" font-size="5.3" fill="#111" font-weight="bold">-0.1</text>
<text x="559.40" y="400.00" font-size="5.3" fill="#111" font-weight="bold">0.2</text>
<text x="559.40" y="429.20" font-size="5.3" fill="#111" font-weight="bold">1.1</text>
<text x="559.40" y="454.20" font-size="5.3" fill="#111" font-weight="bold">2.1</text>
<text x="559.40" y="477.20" font-size="5.3" fill="#111" font-weight="bold">1.5</text>
<rect x="543.50" y="41.20" width="37.00" height="461.30" fill="none" stroke="#7a7a7a" stroke-width="0.9" />
</g></svg></body></html>
